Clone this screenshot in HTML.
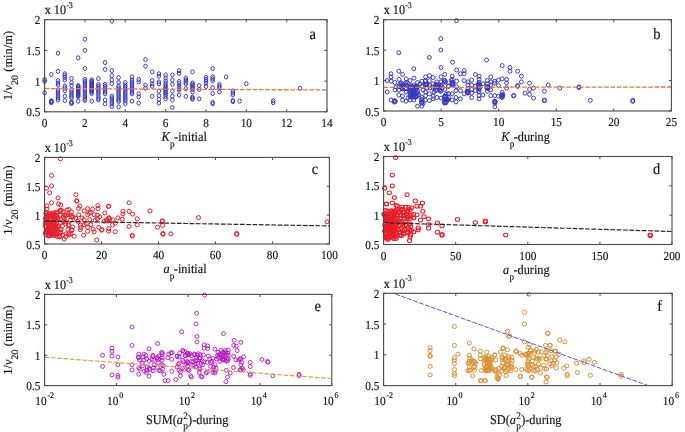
<!DOCTYPE html>
<html><head><meta charset="utf-8"><style>
html,body{margin:0;padding:0;background:#fff;}
svg{display:block;will-change:transform;filter:blur(0.35px);text-rendering:geometricPrecision;font-family:"Liberation Serif", serif;} text{fill:#111;stroke:#111;stroke-width:0.15px;}
</style></head><body>
<svg width="685" height="432" viewBox="0 0 685 432">
<rect width="685" height="432" fill="#fff"/>
<defs>
<clipPath id="cpa"><rect x="41.6" y="16.7" width="288.4" height="98.1"/></clipPath>
<clipPath id="cla"><rect x="44.6" y="19.7" width="282.4" height="92.1"/></clipPath>
<clipPath id="cpb"><rect x="380.6" y="16.7" width="293.8" height="97.3"/></clipPath>
<clipPath id="clb"><rect x="383.6" y="19.7" width="287.8" height="91.3"/></clipPath>
<clipPath id="cpc"><rect x="41.6" y="154.4" width="290.8" height="92.6"/></clipPath>
<clipPath id="clc"><rect x="44.6" y="157.4" width="284.8" height="86.6"/></clipPath>
<clipPath id="cpd"><rect x="380.6" y="153.5" width="294.4" height="94.0"/></clipPath>
<clipPath id="cld"><rect x="383.6" y="156.5" width="288.4" height="88.0"/></clipPath>
<clipPath id="cpe"><rect x="41.6" y="291.4" width="293.2" height="97.2"/></clipPath>
<clipPath id="cle"><rect x="44.6" y="294.4" width="287.2" height="91.2"/></clipPath>
<clipPath id="cpf"><rect x="380.6" y="290.3" width="294.6" height="98.3"/></clipPath>
<clipPath id="clf"><rect x="383.6" y="293.3" width="288.6" height="92.3"/></clipPath>
</defs>
<g fill="none" stroke="#3434c4" stroke-width="0.95" clip-path="url(#cpa)">
<ellipse cx="44.6" cy="79.4" rx="1.75" ry="2.05"/>
<ellipse cx="44.6" cy="81.5" rx="1.75" ry="2.05"/>
<ellipse cx="44.6" cy="92.8" rx="1.75" ry="2.05"/>
<ellipse cx="51.3" cy="74.5" rx="1.75" ry="2.05"/>
<ellipse cx="51.3" cy="100.8" rx="1.75" ry="2.05"/>
<ellipse cx="51.3" cy="101.4" rx="1.75" ry="2.05"/>
<ellipse cx="51.3" cy="102.0" rx="1.75" ry="2.05"/>
<ellipse cx="51.3" cy="102.6" rx="1.75" ry="2.05"/>
<ellipse cx="58.0" cy="53.2" rx="1.75" ry="2.05"/>
<ellipse cx="58.0" cy="71.3" rx="1.75" ry="2.05"/>
<ellipse cx="58.0" cy="80.6" rx="1.75" ry="2.05"/>
<ellipse cx="58.0" cy="83.0" rx="1.75" ry="2.05"/>
<ellipse cx="58.0" cy="85.0" rx="1.75" ry="2.05"/>
<ellipse cx="58.0" cy="90.0" rx="1.75" ry="2.05"/>
<ellipse cx="58.0" cy="92.0" rx="1.75" ry="2.05"/>
<ellipse cx="58.0" cy="94.0" rx="1.75" ry="2.05"/>
<ellipse cx="58.0" cy="96.0" rx="1.75" ry="2.05"/>
<ellipse cx="58.0" cy="98.0" rx="1.75" ry="2.05"/>
<ellipse cx="58.0" cy="100.0" rx="1.75" ry="2.05"/>
<ellipse cx="64.8" cy="73.8" rx="1.75" ry="2.05"/>
<ellipse cx="64.8" cy="75.6" rx="1.75" ry="2.05"/>
<ellipse cx="64.8" cy="77.5" rx="1.75" ry="2.05"/>
<ellipse cx="64.8" cy="80.0" rx="1.75" ry="2.05"/>
<ellipse cx="64.8" cy="86.2" rx="1.75" ry="2.05"/>
<ellipse cx="64.8" cy="88.1" rx="1.75" ry="2.05"/>
<ellipse cx="64.8" cy="90.6" rx="1.75" ry="2.05"/>
<ellipse cx="64.8" cy="96.2" rx="1.75" ry="2.05"/>
<ellipse cx="64.8" cy="100.6" rx="1.75" ry="2.05"/>
<ellipse cx="71.5" cy="78.5" rx="1.75" ry="2.05"/>
<ellipse cx="71.5" cy="82.5" rx="1.75" ry="2.05"/>
<ellipse cx="71.5" cy="85.6" rx="1.75" ry="2.05"/>
<ellipse cx="71.5" cy="90.0" rx="1.75" ry="2.05"/>
<ellipse cx="71.5" cy="92.0" rx="1.75" ry="2.05"/>
<ellipse cx="71.5" cy="94.0" rx="1.75" ry="2.05"/>
<ellipse cx="71.5" cy="96.0" rx="1.75" ry="2.05"/>
<ellipse cx="71.5" cy="98.0" rx="1.75" ry="2.05"/>
<ellipse cx="71.5" cy="102.0" rx="1.75" ry="2.05"/>
<ellipse cx="71.5" cy="102.8" rx="1.75" ry="2.05"/>
<ellipse cx="71.5" cy="103.5" rx="1.75" ry="2.05"/>
<ellipse cx="78.2" cy="57.9" rx="1.75" ry="2.05"/>
<ellipse cx="78.2" cy="85.6" rx="1.75" ry="2.05"/>
<ellipse cx="78.2" cy="86.6" rx="1.75" ry="2.05"/>
<ellipse cx="78.2" cy="87.6" rx="1.75" ry="2.05"/>
<ellipse cx="78.2" cy="88.6" rx="1.75" ry="2.05"/>
<ellipse cx="78.2" cy="89.6" rx="1.75" ry="2.05"/>
<ellipse cx="78.2" cy="90.6" rx="1.75" ry="2.05"/>
<ellipse cx="78.2" cy="91.6" rx="1.75" ry="2.05"/>
<ellipse cx="78.2" cy="92.6" rx="1.75" ry="2.05"/>
<ellipse cx="78.2" cy="93.6" rx="1.75" ry="2.05"/>
<ellipse cx="78.2" cy="94.6" rx="1.75" ry="2.05"/>
<ellipse cx="78.2" cy="95.6" rx="1.75" ry="2.05"/>
<ellipse cx="78.2" cy="96.5" rx="1.75" ry="2.05"/>
<ellipse cx="78.2" cy="101.2" rx="1.75" ry="2.05"/>
<ellipse cx="84.9" cy="39.3" rx="1.75" ry="2.05"/>
<ellipse cx="84.9" cy="50.4" rx="1.75" ry="2.05"/>
<ellipse cx="84.9" cy="68.5" rx="1.75" ry="2.05"/>
<ellipse cx="84.9" cy="79.4" rx="1.75" ry="2.05"/>
<ellipse cx="84.9" cy="81.2" rx="1.75" ry="2.05"/>
<ellipse cx="84.9" cy="83.0" rx="1.75" ry="2.05"/>
<ellipse cx="84.9" cy="85.0" rx="1.75" ry="2.05"/>
<ellipse cx="84.9" cy="87.0" rx="1.75" ry="2.05"/>
<ellipse cx="84.9" cy="89.0" rx="1.75" ry="2.05"/>
<ellipse cx="84.9" cy="91.0" rx="1.75" ry="2.05"/>
<ellipse cx="84.9" cy="93.0" rx="1.75" ry="2.05"/>
<ellipse cx="84.9" cy="95.0" rx="1.75" ry="2.05"/>
<ellipse cx="84.9" cy="97.0" rx="1.75" ry="2.05"/>
<ellipse cx="84.9" cy="99.0" rx="1.75" ry="2.05"/>
<ellipse cx="84.9" cy="100.5" rx="1.75" ry="2.05"/>
<ellipse cx="91.7" cy="80.0" rx="1.75" ry="2.05"/>
<ellipse cx="91.7" cy="81.0" rx="1.75" ry="2.05"/>
<ellipse cx="91.7" cy="82.0" rx="1.75" ry="2.05"/>
<ellipse cx="91.7" cy="83.0" rx="1.75" ry="2.05"/>
<ellipse cx="91.7" cy="84.0" rx="1.75" ry="2.05"/>
<ellipse cx="91.7" cy="85.0" rx="1.75" ry="2.05"/>
<ellipse cx="91.7" cy="86.0" rx="1.75" ry="2.05"/>
<ellipse cx="91.7" cy="87.0" rx="1.75" ry="2.05"/>
<ellipse cx="91.7" cy="88.0" rx="1.75" ry="2.05"/>
<ellipse cx="91.7" cy="89.0" rx="1.75" ry="2.05"/>
<ellipse cx="91.7" cy="90.0" rx="1.75" ry="2.05"/>
<ellipse cx="91.7" cy="91.0" rx="1.75" ry="2.05"/>
<ellipse cx="91.7" cy="92.0" rx="1.75" ry="2.05"/>
<ellipse cx="91.7" cy="93.5" rx="1.75" ry="2.05"/>
<ellipse cx="91.7" cy="101.2" rx="1.75" ry="2.05"/>
<ellipse cx="98.4" cy="78.6" rx="1.75" ry="2.05"/>
<ellipse cx="98.4" cy="84.4" rx="1.75" ry="2.05"/>
<ellipse cx="98.4" cy="86.2" rx="1.75" ry="2.05"/>
<ellipse cx="98.4" cy="88.0" rx="1.75" ry="2.05"/>
<ellipse cx="98.4" cy="90.0" rx="1.75" ry="2.05"/>
<ellipse cx="98.4" cy="92.0" rx="1.75" ry="2.05"/>
<ellipse cx="98.4" cy="94.0" rx="1.75" ry="2.05"/>
<ellipse cx="98.4" cy="96.5" rx="1.75" ry="2.05"/>
<ellipse cx="98.4" cy="98.5" rx="1.75" ry="2.05"/>
<ellipse cx="98.4" cy="100.0" rx="1.75" ry="2.05"/>
<ellipse cx="105.1" cy="62.5" rx="1.75" ry="2.05"/>
<ellipse cx="105.1" cy="69.4" rx="1.75" ry="2.05"/>
<ellipse cx="105.1" cy="84.4" rx="1.75" ry="2.05"/>
<ellipse cx="105.1" cy="86.2" rx="1.75" ry="2.05"/>
<ellipse cx="105.1" cy="88.0" rx="1.75" ry="2.05"/>
<ellipse cx="105.1" cy="90.0" rx="1.75" ry="2.05"/>
<ellipse cx="105.1" cy="92.0" rx="1.75" ry="2.05"/>
<ellipse cx="105.1" cy="93.8" rx="1.75" ry="2.05"/>
<ellipse cx="105.1" cy="100.0" rx="1.75" ry="2.05"/>
<ellipse cx="105.1" cy="103.8" rx="1.75" ry="2.05"/>
<ellipse cx="111.8" cy="21.0" rx="1.75" ry="2.05"/>
<ellipse cx="111.8" cy="70.6" rx="1.75" ry="2.05"/>
<ellipse cx="111.8" cy="75.6" rx="1.75" ry="2.05"/>
<ellipse cx="111.8" cy="80.0" rx="1.75" ry="2.05"/>
<ellipse cx="111.8" cy="83.5" rx="1.75" ry="2.05"/>
<ellipse cx="111.8" cy="96.2" rx="1.75" ry="2.05"/>
<ellipse cx="111.8" cy="98.0" rx="1.75" ry="2.05"/>
<ellipse cx="111.8" cy="100.0" rx="1.75" ry="2.05"/>
<ellipse cx="111.8" cy="102.0" rx="1.75" ry="2.05"/>
<ellipse cx="111.8" cy="104.0" rx="1.75" ry="2.05"/>
<ellipse cx="111.8" cy="106.5" rx="1.75" ry="2.05"/>
<ellipse cx="118.6" cy="77.5" rx="1.75" ry="2.05"/>
<ellipse cx="118.6" cy="82.5" rx="1.75" ry="2.05"/>
<ellipse cx="118.6" cy="86.2" rx="1.75" ry="2.05"/>
<ellipse cx="118.6" cy="88.0" rx="1.75" ry="2.05"/>
<ellipse cx="118.6" cy="90.0" rx="1.75" ry="2.05"/>
<ellipse cx="118.6" cy="92.0" rx="1.75" ry="2.05"/>
<ellipse cx="118.6" cy="94.0" rx="1.75" ry="2.05"/>
<ellipse cx="118.6" cy="96.0" rx="1.75" ry="2.05"/>
<ellipse cx="118.6" cy="98.0" rx="1.75" ry="2.05"/>
<ellipse cx="118.6" cy="100.0" rx="1.75" ry="2.05"/>
<ellipse cx="118.6" cy="101.5" rx="1.75" ry="2.05"/>
<ellipse cx="118.6" cy="106.9" rx="1.75" ry="2.05"/>
<ellipse cx="125.3" cy="82.5" rx="1.75" ry="2.05"/>
<ellipse cx="125.3" cy="85.0" rx="1.75" ry="2.05"/>
<ellipse cx="125.3" cy="87.0" rx="1.75" ry="2.05"/>
<ellipse cx="125.3" cy="89.0" rx="1.75" ry="2.05"/>
<ellipse cx="125.3" cy="91.0" rx="1.75" ry="2.05"/>
<ellipse cx="125.3" cy="93.0" rx="1.75" ry="2.05"/>
<ellipse cx="125.3" cy="95.0" rx="1.75" ry="2.05"/>
<ellipse cx="125.3" cy="97.0" rx="1.75" ry="2.05"/>
<ellipse cx="125.3" cy="99.0" rx="1.75" ry="2.05"/>
<ellipse cx="125.3" cy="101.0" rx="1.75" ry="2.05"/>
<ellipse cx="125.3" cy="103.5" rx="1.75" ry="2.05"/>
<ellipse cx="132.0" cy="76.9" rx="1.75" ry="2.05"/>
<ellipse cx="132.0" cy="80.0" rx="1.75" ry="2.05"/>
<ellipse cx="132.0" cy="82.0" rx="1.75" ry="2.05"/>
<ellipse cx="132.0" cy="84.0" rx="1.75" ry="2.05"/>
<ellipse cx="132.0" cy="86.0" rx="1.75" ry="2.05"/>
<ellipse cx="132.0" cy="88.0" rx="1.75" ry="2.05"/>
<ellipse cx="132.0" cy="90.0" rx="1.75" ry="2.05"/>
<ellipse cx="132.0" cy="92.0" rx="1.75" ry="2.05"/>
<ellipse cx="132.0" cy="93.8" rx="1.75" ry="2.05"/>
<ellipse cx="132.0" cy="101.2" rx="1.75" ry="2.05"/>
<ellipse cx="138.7" cy="79.4" rx="1.75" ry="2.05"/>
<ellipse cx="138.7" cy="81.9" rx="1.75" ry="2.05"/>
<ellipse cx="138.7" cy="93.8" rx="1.75" ry="2.05"/>
<ellipse cx="138.7" cy="96.9" rx="1.75" ry="2.05"/>
<ellipse cx="138.7" cy="103.1" rx="1.75" ry="2.05"/>
<ellipse cx="145.5" cy="59.6" rx="1.75" ry="2.05"/>
<ellipse cx="145.5" cy="66.2" rx="1.75" ry="2.05"/>
<ellipse cx="145.5" cy="85.0" rx="1.75" ry="2.05"/>
<ellipse cx="145.5" cy="88.1" rx="1.75" ry="2.05"/>
<ellipse cx="152.2" cy="71.9" rx="1.75" ry="2.05"/>
<ellipse cx="152.2" cy="80.6" rx="1.75" ry="2.05"/>
<ellipse cx="152.2" cy="83.8" rx="1.75" ry="2.05"/>
<ellipse cx="152.2" cy="86.2" rx="1.75" ry="2.05"/>
<ellipse cx="152.2" cy="96.2" rx="1.75" ry="2.05"/>
<ellipse cx="158.9" cy="73.8" rx="1.75" ry="2.05"/>
<ellipse cx="158.9" cy="76.2" rx="1.75" ry="2.05"/>
<ellipse cx="158.9" cy="81.9" rx="1.75" ry="2.05"/>
<ellipse cx="158.9" cy="83.8" rx="1.75" ry="2.05"/>
<ellipse cx="158.9" cy="91.2" rx="1.75" ry="2.05"/>
<ellipse cx="158.9" cy="95.6" rx="1.75" ry="2.05"/>
<ellipse cx="158.9" cy="99.4" rx="1.75" ry="2.05"/>
<ellipse cx="158.9" cy="103.1" rx="1.75" ry="2.05"/>
<ellipse cx="165.6" cy="75.0" rx="1.75" ry="2.05"/>
<ellipse cx="165.6" cy="78.0" rx="1.75" ry="2.05"/>
<ellipse cx="165.6" cy="81.0" rx="1.75" ry="2.05"/>
<ellipse cx="165.6" cy="83.5" rx="1.75" ry="2.05"/>
<ellipse cx="165.6" cy="85.5" rx="1.75" ry="2.05"/>
<ellipse cx="165.6" cy="87.0" rx="1.75" ry="2.05"/>
<ellipse cx="165.6" cy="88.5" rx="1.75" ry="2.05"/>
<ellipse cx="165.6" cy="90.0" rx="1.75" ry="2.05"/>
<ellipse cx="165.6" cy="91.5" rx="1.75" ry="2.05"/>
<ellipse cx="165.6" cy="93.0" rx="1.75" ry="2.05"/>
<ellipse cx="165.6" cy="94.5" rx="1.75" ry="2.05"/>
<ellipse cx="165.6" cy="96.5" rx="1.75" ry="2.05"/>
<ellipse cx="165.6" cy="98.8" rx="1.75" ry="2.05"/>
<ellipse cx="172.4" cy="75.0" rx="1.75" ry="2.05"/>
<ellipse cx="172.4" cy="80.0" rx="1.75" ry="2.05"/>
<ellipse cx="172.4" cy="84.4" rx="1.75" ry="2.05"/>
<ellipse cx="172.4" cy="91.2" rx="1.75" ry="2.05"/>
<ellipse cx="172.4" cy="96.2" rx="1.75" ry="2.05"/>
<ellipse cx="172.4" cy="100.0" rx="1.75" ry="2.05"/>
<ellipse cx="172.4" cy="107.5" rx="1.75" ry="2.05"/>
<ellipse cx="179.1" cy="70.6" rx="1.75" ry="2.05"/>
<ellipse cx="179.1" cy="73.3" rx="1.75" ry="2.05"/>
<ellipse cx="179.1" cy="81.5" rx="1.75" ry="2.05"/>
<ellipse cx="179.1" cy="83.5" rx="1.75" ry="2.05"/>
<ellipse cx="179.1" cy="86.5" rx="1.75" ry="2.05"/>
<ellipse cx="179.1" cy="88.5" rx="1.75" ry="2.05"/>
<ellipse cx="179.1" cy="90.0" rx="1.75" ry="2.05"/>
<ellipse cx="179.1" cy="95.0" rx="1.75" ry="2.05"/>
<ellipse cx="185.8" cy="78.0" rx="1.75" ry="2.05"/>
<ellipse cx="185.8" cy="80.0" rx="1.75" ry="2.05"/>
<ellipse cx="185.8" cy="82.0" rx="1.75" ry="2.05"/>
<ellipse cx="185.8" cy="83.8" rx="1.75" ry="2.05"/>
<ellipse cx="185.8" cy="88.8" rx="1.75" ry="2.05"/>
<ellipse cx="185.8" cy="96.5" rx="1.75" ry="2.05"/>
<ellipse cx="192.5" cy="71.9" rx="1.75" ry="2.05"/>
<ellipse cx="192.5" cy="83.0" rx="1.75" ry="2.05"/>
<ellipse cx="192.5" cy="84.4" rx="1.75" ry="2.05"/>
<ellipse cx="192.5" cy="85.6" rx="1.75" ry="2.05"/>
<ellipse cx="192.5" cy="86.9" rx="1.75" ry="2.05"/>
<ellipse cx="192.5" cy="88.1" rx="1.75" ry="2.05"/>
<ellipse cx="192.5" cy="89.4" rx="1.75" ry="2.05"/>
<ellipse cx="192.5" cy="91.9" rx="1.75" ry="2.05"/>
<ellipse cx="192.5" cy="97.0" rx="1.75" ry="2.05"/>
<ellipse cx="192.5" cy="98.1" rx="1.75" ry="2.05"/>
<ellipse cx="192.5" cy="99.4" rx="1.75" ry="2.05"/>
<ellipse cx="199.2" cy="85.6" rx="1.75" ry="2.05"/>
<ellipse cx="199.2" cy="89.4" rx="1.75" ry="2.05"/>
<ellipse cx="199.2" cy="98.8" rx="1.75" ry="2.05"/>
<ellipse cx="206.0" cy="77.5" rx="1.75" ry="2.05"/>
<ellipse cx="206.0" cy="79.4" rx="1.75" ry="2.05"/>
<ellipse cx="206.0" cy="81.2" rx="1.75" ry="2.05"/>
<ellipse cx="206.0" cy="83.1" rx="1.75" ry="2.05"/>
<ellipse cx="206.0" cy="86.5" rx="1.75" ry="2.05"/>
<ellipse cx="212.7" cy="68.5" rx="1.75" ry="2.05"/>
<ellipse cx="212.7" cy="76.9" rx="1.75" ry="2.05"/>
<ellipse cx="212.7" cy="78.8" rx="1.75" ry="2.05"/>
<ellipse cx="212.7" cy="80.6" rx="1.75" ry="2.05"/>
<ellipse cx="212.7" cy="87.8" rx="1.75" ry="2.05"/>
<ellipse cx="212.7" cy="93.5" rx="1.75" ry="2.05"/>
<ellipse cx="212.7" cy="102.5" rx="1.75" ry="2.05"/>
<ellipse cx="212.7" cy="103.8" rx="1.75" ry="2.05"/>
<ellipse cx="219.4" cy="84.4" rx="1.75" ry="2.05"/>
<ellipse cx="219.4" cy="86.2" rx="1.75" ry="2.05"/>
<ellipse cx="219.4" cy="88.1" rx="1.75" ry="2.05"/>
<ellipse cx="219.4" cy="91.9" rx="1.75" ry="2.05"/>
<ellipse cx="226.1" cy="76.9" rx="1.75" ry="2.05"/>
<ellipse cx="232.9" cy="91.0" rx="1.75" ry="2.05"/>
<ellipse cx="232.9" cy="92.9" rx="1.75" ry="2.05"/>
<ellipse cx="232.9" cy="94.8" rx="1.75" ry="2.05"/>
<ellipse cx="232.9" cy="100.6" rx="1.75" ry="2.05"/>
<ellipse cx="232.9" cy="101.6" rx="1.75" ry="2.05"/>
<ellipse cx="239.6" cy="101.2" rx="1.75" ry="2.05"/>
<ellipse cx="246.3" cy="83.7" rx="1.75" ry="2.05"/>
<ellipse cx="273.2" cy="100.7" rx="1.75" ry="2.05"/>
<ellipse cx="273.2" cy="102.7" rx="1.75" ry="2.05"/>
<ellipse cx="300.1" cy="88.2" rx="1.75" ry="2.05"/>
</g>
<line x1="44.6" y1="88.5" x2="327.0" y2="90.0" stroke="#ee7a30" stroke-width="1.3" stroke-dasharray="4.8 1.5" clip-path="url(#cla)"/>
<rect x="44.6" y="19.7" width="282.4" height="92.1" fill="none" stroke="#4a4a4a" stroke-width="1.1"/>
<path d="M44.60 111.8v-2.6M44.60 19.7v2.6M84.94 111.8v-2.6M84.94 19.7v2.6M125.29 111.8v-2.6M125.29 19.7v2.6M165.63 111.8v-2.6M165.63 19.7v2.6M205.97 111.8v-2.6M205.97 19.7v2.6M246.31 111.8v-2.6M246.31 19.7v2.6M286.66 111.8v-2.6M286.66 19.7v2.6M327.00 111.8v-2.6M327.00 19.7v2.6M44.6 111.80h2.6M327.0 111.80h-2.6M44.6 81.10h2.6M327.0 81.10h-2.6M44.6 50.40h2.6M327.0 50.40h-2.6M44.6 19.70h2.6M327.0 19.70h-2.6" stroke="#4a4a4a" stroke-width="1" fill="none"/>
<text transform="translate(40.40 116.30) scale(1 1.08)" font-size="11.3" text-anchor="end">0.5</text>
<text transform="translate(40.40 85.60) scale(1 1.08)" font-size="11.3" text-anchor="end">1</text>
<text transform="translate(40.40 54.90) scale(1 1.08)" font-size="11.3" text-anchor="end">1.5</text>
<text transform="translate(40.40 24.20) scale(1 1.08)" font-size="11.3" text-anchor="end">2</text>
<text transform="translate(44.70 14.40) scale(1 1.08)" font-size="12.2">x 10</text>
<text transform="translate(66.20 7.80) scale(1 1.08)" font-size="8">-3</text>
<text transform="translate(44.60 126.90) scale(1 1.08)" font-size="11.3" text-anchor="middle">0</text>
<text transform="translate(84.94 126.90) scale(1 1.08)" font-size="11.3" text-anchor="middle">2</text>
<text transform="translate(125.29 126.90) scale(1 1.08)" font-size="11.3" text-anchor="middle">4</text>
<text transform="translate(165.63 126.90) scale(1 1.08)" font-size="11.3" text-anchor="middle">6</text>
<text transform="translate(205.97 126.90) scale(1 1.08)" font-size="11.3" text-anchor="middle">8</text>
<text transform="translate(246.31 126.90) scale(1 1.08)" font-size="11.3" text-anchor="middle">10</text>
<text transform="translate(286.66 126.90) scale(1 1.08)" font-size="11.3" text-anchor="middle">12</text>
<text transform="translate(327.00 126.90) scale(1 1.08)" font-size="11.3" text-anchor="middle">14</text>
<text transform="translate(309.50 38.80) scale(1 1.08)" font-size="14.5">a</text>
<g fill="none" stroke="#3434c4" stroke-width="0.95" clip-path="url(#cpb)">
<ellipse cx="387.2" cy="80.6" rx="1.95" ry="2.0"/>
<ellipse cx="387.2" cy="91.9" rx="1.95" ry="2.0"/>
<ellipse cx="391.0" cy="73.8" rx="1.95" ry="2.0"/>
<ellipse cx="391.0" cy="76.9" rx="1.95" ry="2.0"/>
<ellipse cx="391.2" cy="81.2" rx="1.95" ry="2.0"/>
<ellipse cx="391.0" cy="100.0" rx="1.95" ry="2.0"/>
<ellipse cx="394.8" cy="82.5" rx="1.95" ry="2.0"/>
<ellipse cx="394.8" cy="101.2" rx="1.95" ry="2.0"/>
<ellipse cx="395.0" cy="90.0" rx="1.95" ry="2.0"/>
<ellipse cx="398.8" cy="71.2" rx="1.95" ry="2.0"/>
<ellipse cx="399.0" cy="79.4" rx="1.95" ry="2.0"/>
<ellipse cx="398.8" cy="86.2" rx="1.95" ry="2.0"/>
<ellipse cx="398.8" cy="90.0" rx="1.95" ry="2.0"/>
<ellipse cx="398.8" cy="95.0" rx="1.95" ry="2.0"/>
<ellipse cx="402.5" cy="74.4" rx="1.95" ry="2.0"/>
<ellipse cx="402.5" cy="83.8" rx="1.95" ry="2.0"/>
<ellipse cx="402.5" cy="88.8" rx="1.95" ry="2.0"/>
<ellipse cx="402.5" cy="96.2" rx="1.95" ry="2.0"/>
<ellipse cx="402.5" cy="100.0" rx="1.95" ry="2.0"/>
<ellipse cx="406.2" cy="78.8" rx="1.95" ry="2.0"/>
<ellipse cx="406.2" cy="85.0" rx="1.95" ry="2.0"/>
<ellipse cx="406.2" cy="88.8" rx="1.95" ry="2.0"/>
<ellipse cx="406.2" cy="101.2" rx="1.95" ry="2.0"/>
<ellipse cx="410.0" cy="80.6" rx="1.95" ry="2.0"/>
<ellipse cx="410.0" cy="86.2" rx="1.95" ry="2.0"/>
<ellipse cx="410.0" cy="90.0" rx="1.95" ry="2.0"/>
<ellipse cx="410.0" cy="92.5" rx="1.95" ry="2.0"/>
<ellipse cx="410.0" cy="96.2" rx="1.95" ry="2.0"/>
<ellipse cx="410.0" cy="100.0" rx="1.95" ry="2.0"/>
<ellipse cx="413.8" cy="68.8" rx="1.95" ry="2.0"/>
<ellipse cx="414.0" cy="78.1" rx="1.95" ry="2.0"/>
<ellipse cx="413.8" cy="85.0" rx="1.95" ry="2.0"/>
<ellipse cx="413.8" cy="90.0" rx="1.95" ry="2.0"/>
<ellipse cx="413.8" cy="92.5" rx="1.95" ry="2.0"/>
<ellipse cx="413.8" cy="95.6" rx="1.95" ry="2.0"/>
<ellipse cx="413.8" cy="100.0" rx="1.95" ry="2.0"/>
<ellipse cx="417.5" cy="82.5" rx="1.95" ry="2.0"/>
<ellipse cx="417.5" cy="86.9" rx="1.95" ry="2.0"/>
<ellipse cx="417.5" cy="90.6" rx="1.95" ry="2.0"/>
<ellipse cx="417.5" cy="93.1" rx="1.95" ry="2.0"/>
<ellipse cx="417.5" cy="106.2" rx="1.95" ry="2.0"/>
<ellipse cx="421.9" cy="81.2" rx="1.95" ry="2.0"/>
<ellipse cx="421.9" cy="86.2" rx="1.95" ry="2.0"/>
<ellipse cx="421.9" cy="97.5" rx="1.95" ry="2.0"/>
<ellipse cx="421.9" cy="100.0" rx="1.95" ry="2.0"/>
<ellipse cx="421.9" cy="102.5" rx="1.95" ry="2.0"/>
<ellipse cx="421.9" cy="106.2" rx="1.95" ry="2.0"/>
<ellipse cx="425.6" cy="76.9" rx="1.95" ry="2.0"/>
<ellipse cx="425.6" cy="80.6" rx="1.95" ry="2.0"/>
<ellipse cx="425.6" cy="84.4" rx="1.95" ry="2.0"/>
<ellipse cx="425.6" cy="91.9" rx="1.95" ry="2.0"/>
<ellipse cx="425.6" cy="95.6" rx="1.95" ry="2.0"/>
<ellipse cx="425.6" cy="100.0" rx="1.95" ry="2.0"/>
<ellipse cx="429.4" cy="75.6" rx="1.95" ry="2.0"/>
<ellipse cx="429.4" cy="80.6" rx="1.95" ry="2.0"/>
<ellipse cx="429.4" cy="85.6" rx="1.95" ry="2.0"/>
<ellipse cx="429.4" cy="93.8" rx="1.95" ry="2.0"/>
<ellipse cx="429.4" cy="100.6" rx="1.95" ry="2.0"/>
<ellipse cx="433.1" cy="77.5" rx="1.95" ry="2.0"/>
<ellipse cx="433.1" cy="83.8" rx="1.95" ry="2.0"/>
<ellipse cx="433.1" cy="87.5" rx="1.95" ry="2.0"/>
<ellipse cx="433.1" cy="96.2" rx="1.95" ry="2.0"/>
<ellipse cx="433.1" cy="98.8" rx="1.95" ry="2.0"/>
<ellipse cx="436.9" cy="81.9" rx="1.95" ry="2.0"/>
<ellipse cx="436.9" cy="86.2" rx="1.95" ry="2.0"/>
<ellipse cx="436.9" cy="90.0" rx="1.95" ry="2.0"/>
<ellipse cx="436.9" cy="97.5" rx="1.95" ry="2.0"/>
<ellipse cx="441.0" cy="67.5" rx="1.95" ry="2.0"/>
<ellipse cx="441.0" cy="76.9" rx="1.95" ry="2.0"/>
<ellipse cx="441.0" cy="81.9" rx="1.95" ry="2.0"/>
<ellipse cx="441.0" cy="86.2" rx="1.95" ry="2.0"/>
<ellipse cx="441.0" cy="91.2" rx="1.95" ry="2.0"/>
<ellipse cx="441.0" cy="98.1" rx="1.95" ry="2.0"/>
<ellipse cx="444.8" cy="74.4" rx="1.95" ry="2.0"/>
<ellipse cx="444.8" cy="80.6" rx="1.95" ry="2.0"/>
<ellipse cx="444.8" cy="89.4" rx="1.95" ry="2.0"/>
<ellipse cx="444.8" cy="96.2" rx="1.95" ry="2.0"/>
<ellipse cx="444.8" cy="100.0" rx="1.95" ry="2.0"/>
<ellipse cx="444.8" cy="103.1" rx="1.95" ry="2.0"/>
<ellipse cx="448.5" cy="86.2" rx="1.95" ry="2.0"/>
<ellipse cx="448.5" cy="93.8" rx="1.95" ry="2.0"/>
<ellipse cx="410.0" cy="88.0" rx="1.95" ry="2.0"/>
<ellipse cx="412.0" cy="94.0" rx="1.95" ry="2.0"/>
<ellipse cx="414.0" cy="97.0" rx="1.95" ry="2.0"/>
<ellipse cx="408.0" cy="98.0" rx="1.95" ry="2.0"/>
<ellipse cx="416.0" cy="88.0" rx="1.95" ry="2.0"/>
<ellipse cx="420.0" cy="84.0" rx="1.95" ry="2.0"/>
<ellipse cx="404.0" cy="86.0" rx="1.95" ry="2.0"/>
<ellipse cx="400.0" cy="84.0" rx="1.95" ry="2.0"/>
<ellipse cx="396.0" cy="87.0" rx="1.95" ry="2.0"/>
<ellipse cx="430.0" cy="88.0" rx="1.95" ry="2.0"/>
<ellipse cx="434.0" cy="92.0" rx="1.95" ry="2.0"/>
<ellipse cx="427.0" cy="88.0" rx="1.95" ry="2.0"/>
<ellipse cx="423.0" cy="90.0" rx="1.95" ry="2.0"/>
<ellipse cx="406.0" cy="92.0" rx="1.95" ry="2.0"/>
<ellipse cx="419.0" cy="95.0" rx="1.95" ry="2.0"/>
<ellipse cx="456.4" cy="20.5" rx="1.95" ry="2.0"/>
<ellipse cx="440.8" cy="38.7" rx="1.95" ry="2.0"/>
<ellipse cx="440.8" cy="50.0" rx="1.95" ry="2.0"/>
<ellipse cx="398.8" cy="52.7" rx="1.95" ry="2.0"/>
<ellipse cx="429.4" cy="57.5" rx="1.95" ry="2.0"/>
<ellipse cx="452.5" cy="62.2" rx="1.95" ry="2.0"/>
<ellipse cx="486.6" cy="60.0" rx="1.95" ry="2.0"/>
<ellipse cx="502.2" cy="65.6" rx="1.95" ry="2.0"/>
<ellipse cx="510.0" cy="67.5" rx="1.95" ry="2.0"/>
<ellipse cx="510.0" cy="71.2" rx="1.95" ry="2.0"/>
<ellipse cx="456.6" cy="70.0" rx="1.95" ry="2.0"/>
<ellipse cx="460.4" cy="73.8" rx="1.95" ry="2.0"/>
<ellipse cx="464.1" cy="70.6" rx="1.95" ry="2.0"/>
<ellipse cx="464.1" cy="73.8" rx="1.95" ry="2.0"/>
<ellipse cx="475.4" cy="74.4" rx="1.95" ry="2.0"/>
<ellipse cx="452.2" cy="76.2" rx="1.95" ry="2.0"/>
<ellipse cx="452.2" cy="79.4" rx="1.95" ry="2.0"/>
<ellipse cx="452.2" cy="82.5" rx="1.95" ry="2.0"/>
<ellipse cx="452.2" cy="85.0" rx="1.95" ry="2.0"/>
<ellipse cx="456.6" cy="81.2" rx="1.95" ry="2.0"/>
<ellipse cx="456.6" cy="86.9" rx="1.95" ry="2.0"/>
<ellipse cx="456.0" cy="90.6" rx="1.95" ry="2.0"/>
<ellipse cx="456.0" cy="97.5" rx="1.95" ry="2.0"/>
<ellipse cx="456.0" cy="101.9" rx="1.95" ry="2.0"/>
<ellipse cx="452.2" cy="93.8" rx="1.95" ry="2.0"/>
<ellipse cx="452.2" cy="100.0" rx="1.95" ry="2.0"/>
<ellipse cx="448.5" cy="86.2" rx="1.95" ry="2.0"/>
<ellipse cx="448.5" cy="93.8" rx="1.95" ry="2.0"/>
<ellipse cx="448.5" cy="97.5" rx="1.95" ry="2.0"/>
<ellipse cx="460.4" cy="90.6" rx="1.95" ry="2.0"/>
<ellipse cx="460.4" cy="98.8" rx="1.95" ry="2.0"/>
<ellipse cx="464.1" cy="80.6" rx="1.95" ry="2.0"/>
<ellipse cx="464.1" cy="93.8" rx="1.95" ry="2.0"/>
<ellipse cx="467.9" cy="81.9" rx="1.95" ry="2.0"/>
<ellipse cx="467.9" cy="85.0" rx="1.95" ry="2.0"/>
<ellipse cx="467.9" cy="88.8" rx="1.95" ry="2.0"/>
<ellipse cx="467.9" cy="91.2" rx="1.95" ry="2.0"/>
<ellipse cx="467.9" cy="93.1" rx="1.95" ry="2.0"/>
<ellipse cx="471.6" cy="80.0" rx="1.95" ry="2.0"/>
<ellipse cx="471.6" cy="85.0" rx="1.95" ry="2.0"/>
<ellipse cx="471.6" cy="89.4" rx="1.95" ry="2.0"/>
<ellipse cx="471.6" cy="93.1" rx="1.95" ry="2.0"/>
<ellipse cx="471.6" cy="97.5" rx="1.95" ry="2.0"/>
<ellipse cx="475.4" cy="86.2" rx="1.95" ry="2.0"/>
<ellipse cx="475.4" cy="90.6" rx="1.95" ry="2.0"/>
<ellipse cx="479.1" cy="76.2" rx="1.95" ry="2.0"/>
<ellipse cx="479.1" cy="79.4" rx="1.95" ry="2.0"/>
<ellipse cx="479.1" cy="82.5" rx="1.95" ry="2.0"/>
<ellipse cx="479.1" cy="85.6" rx="1.95" ry="2.0"/>
<ellipse cx="479.1" cy="88.8" rx="1.95" ry="2.0"/>
<ellipse cx="479.1" cy="91.9" rx="1.95" ry="2.0"/>
<ellipse cx="479.1" cy="95.6" rx="1.95" ry="2.0"/>
<ellipse cx="479.1" cy="98.8" rx="1.95" ry="2.0"/>
<ellipse cx="482.9" cy="83.8" rx="1.95" ry="2.0"/>
<ellipse cx="482.9" cy="95.0" rx="1.95" ry="2.0"/>
<ellipse cx="487.2" cy="80.6" rx="1.95" ry="2.0"/>
<ellipse cx="487.2" cy="83.8" rx="1.95" ry="2.0"/>
<ellipse cx="487.2" cy="86.9" rx="1.95" ry="2.0"/>
<ellipse cx="487.2" cy="91.2" rx="1.95" ry="2.0"/>
<ellipse cx="490.8" cy="76.9" rx="1.95" ry="2.0"/>
<ellipse cx="490.8" cy="81.9" rx="1.95" ry="2.0"/>
<ellipse cx="490.8" cy="85.0" rx="1.95" ry="2.0"/>
<ellipse cx="490.8" cy="90.0" rx="1.95" ry="2.0"/>
<ellipse cx="490.8" cy="95.6" rx="1.95" ry="2.0"/>
<ellipse cx="494.8" cy="81.2" rx="1.95" ry="2.0"/>
<ellipse cx="494.8" cy="83.1" rx="1.95" ry="2.0"/>
<ellipse cx="494.8" cy="95.6" rx="1.95" ry="2.0"/>
<ellipse cx="494.8" cy="101.2" rx="1.95" ry="2.0"/>
<ellipse cx="494.8" cy="103.1" rx="1.95" ry="2.0"/>
<ellipse cx="494.8" cy="106.9" rx="1.95" ry="2.0"/>
<ellipse cx="498.5" cy="80.0" rx="1.95" ry="2.0"/>
<ellipse cx="498.5" cy="85.6" rx="1.95" ry="2.0"/>
<ellipse cx="498.5" cy="96.2" rx="1.95" ry="2.0"/>
<ellipse cx="502.2" cy="78.8" rx="1.95" ry="2.0"/>
<ellipse cx="502.2" cy="92.5" rx="1.95" ry="2.0"/>
<ellipse cx="502.2" cy="95.0" rx="1.95" ry="2.0"/>
<ellipse cx="502.2" cy="97.5" rx="1.95" ry="2.0"/>
<ellipse cx="506.6" cy="79.4" rx="1.95" ry="2.0"/>
<ellipse cx="506.6" cy="83.1" rx="1.95" ry="2.0"/>
<ellipse cx="506.6" cy="88.1" rx="1.95" ry="2.0"/>
<ellipse cx="513.5" cy="95.6" rx="1.95" ry="2.0"/>
<ellipse cx="517.6" cy="71.2" rx="1.95" ry="2.0"/>
<ellipse cx="521.4" cy="76.2" rx="1.95" ry="2.0"/>
<ellipse cx="521.4" cy="81.9" rx="1.95" ry="2.0"/>
<ellipse cx="517.6" cy="85.6" rx="1.95" ry="2.0"/>
<ellipse cx="517.6" cy="86.4" rx="1.95" ry="2.0"/>
<ellipse cx="513.9" cy="95.6" rx="1.95" ry="2.0"/>
<ellipse cx="525.1" cy="93.1" rx="1.95" ry="2.0"/>
<ellipse cx="529.5" cy="83.1" rx="1.95" ry="2.0"/>
<ellipse cx="529.5" cy="89.4" rx="1.95" ry="2.0"/>
<ellipse cx="529.5" cy="94.4" rx="1.95" ry="2.0"/>
<ellipse cx="533.5" cy="88.1" rx="1.95" ry="2.0"/>
<ellipse cx="533.5" cy="98.1" rx="1.95" ry="2.0"/>
<ellipse cx="544.5" cy="91.2" rx="1.95" ry="2.0"/>
<ellipse cx="544.5" cy="100.0" rx="1.95" ry="2.0"/>
<ellipse cx="544.5" cy="100.6" rx="1.95" ry="2.0"/>
<ellipse cx="548.2" cy="85.0" rx="1.95" ry="2.0"/>
<ellipse cx="559.8" cy="88.1" rx="1.95" ry="2.0"/>
<ellipse cx="578.9" cy="86.9" rx="1.95" ry="2.0"/>
<ellipse cx="578.9" cy="87.6" rx="1.95" ry="2.0"/>
<ellipse cx="590.3" cy="100.4" rx="1.95" ry="2.0"/>
<ellipse cx="632.8" cy="100.2" rx="1.95" ry="2.0"/>
<ellipse cx="632.8" cy="101.4" rx="1.95" ry="2.0"/>
<ellipse cx="414.7" cy="94.3" rx="1.95" ry="2.0"/>
<ellipse cx="416.0" cy="96.8" rx="1.95" ry="2.0"/>
<ellipse cx="415.5" cy="96.5" rx="1.95" ry="2.0"/>
<ellipse cx="410.2" cy="90.8" rx="1.95" ry="2.0"/>
<ellipse cx="417.1" cy="93.1" rx="1.95" ry="2.0"/>
<ellipse cx="416.8" cy="86.4" rx="1.95" ry="2.0"/>
<ellipse cx="413.5" cy="88.1" rx="1.95" ry="2.0"/>
<ellipse cx="414.1" cy="92.2" rx="1.95" ry="2.0"/>
<ellipse cx="410.1" cy="87.7" rx="1.95" ry="2.0"/>
<ellipse cx="412.1" cy="96.5" rx="1.95" ry="2.0"/>
<ellipse cx="415.7" cy="87.0" rx="1.95" ry="2.0"/>
<ellipse cx="416.0" cy="86.7" rx="1.95" ry="2.0"/>
<ellipse cx="414.6" cy="86.6" rx="1.95" ry="2.0"/>
<ellipse cx="410.0" cy="95.9" rx="1.95" ry="2.0"/>
<ellipse cx="411.6" cy="87.7" rx="1.95" ry="2.0"/>
<ellipse cx="417.4" cy="95.9" rx="1.95" ry="2.0"/>
<ellipse cx="412.2" cy="97.0" rx="1.95" ry="2.0"/>
<ellipse cx="414.0" cy="93.5" rx="1.95" ry="2.0"/>
<ellipse cx="411.5" cy="96.8" rx="1.95" ry="2.0"/>
<ellipse cx="415.2" cy="97.1" rx="1.95" ry="2.0"/>
<ellipse cx="416.7" cy="88.7" rx="1.95" ry="2.0"/>
<ellipse cx="412.7" cy="87.1" rx="1.95" ry="2.0"/>
<ellipse cx="411.1" cy="85.8" rx="1.95" ry="2.0"/>
<ellipse cx="412.3" cy="92.5" rx="1.95" ry="2.0"/>
<ellipse cx="410.0" cy="93.5" rx="1.95" ry="2.0"/>
<ellipse cx="412.5" cy="88.9" rx="1.95" ry="2.0"/>
<ellipse cx="406.3" cy="85.6" rx="1.95" ry="2.0"/>
<ellipse cx="403.1" cy="85.6" rx="1.95" ry="2.0"/>
<ellipse cx="405.6" cy="82.9" rx="1.95" ry="2.0"/>
<ellipse cx="407.3" cy="82.6" rx="1.95" ry="2.0"/>
<ellipse cx="405.9" cy="88.0" rx="1.95" ry="2.0"/>
<ellipse cx="401.1" cy="87.6" rx="1.95" ry="2.0"/>
<ellipse cx="403.4" cy="86.3" rx="1.95" ry="2.0"/>
<ellipse cx="401.1" cy="82.8" rx="1.95" ry="2.0"/>
<ellipse cx="402.2" cy="88.7" rx="1.95" ry="2.0"/>
<ellipse cx="402.3" cy="87.4" rx="1.95" ry="2.0"/>
<ellipse cx="422.9" cy="103.6" rx="1.95" ry="2.0"/>
<ellipse cx="421.7" cy="99.5" rx="1.95" ry="2.0"/>
<ellipse cx="422.0" cy="102.4" rx="1.95" ry="2.0"/>
<ellipse cx="421.2" cy="102.2" rx="1.95" ry="2.0"/>
<ellipse cx="427.0" cy="84.2" rx="1.95" ry="2.0"/>
<ellipse cx="425.1" cy="84.7" rx="1.95" ry="2.0"/>
<ellipse cx="425.2" cy="81.0" rx="1.95" ry="2.0"/>
<ellipse cx="426.5" cy="84.5" rx="1.95" ry="2.0"/>
<ellipse cx="425.8" cy="84.5" rx="1.95" ry="2.0"/>
<ellipse cx="439.1" cy="86.2" rx="1.95" ry="2.0"/>
<ellipse cx="437.4" cy="85.2" rx="1.95" ry="2.0"/>
<ellipse cx="435.6" cy="85.0" rx="1.95" ry="2.0"/>
<ellipse cx="440.2" cy="91.0" rx="1.95" ry="2.0"/>
<ellipse cx="436.2" cy="84.3" rx="1.95" ry="2.0"/>
<ellipse cx="442.4" cy="87.7" rx="1.95" ry="2.0"/>
<ellipse cx="438.0" cy="85.7" rx="1.95" ry="2.0"/>
<ellipse cx="439.5" cy="89.8" rx="1.95" ry="2.0"/>
<ellipse cx="438.4" cy="87.0" rx="1.95" ry="2.0"/>
<ellipse cx="435.4" cy="90.4" rx="1.95" ry="2.0"/>
<ellipse cx="435.2" cy="87.5" rx="1.95" ry="2.0"/>
<ellipse cx="441.3" cy="84.9" rx="1.95" ry="2.0"/>
<ellipse cx="445.5" cy="82.3" rx="1.95" ry="2.0"/>
<ellipse cx="445.3" cy="81.8" rx="1.95" ry="2.0"/>
<ellipse cx="444.2" cy="80.5" rx="1.95" ry="2.0"/>
<ellipse cx="444.3" cy="102.6" rx="1.95" ry="2.0"/>
<ellipse cx="444.6" cy="99.1" rx="1.95" ry="2.0"/>
<ellipse cx="446.0" cy="102.7" rx="1.95" ry="2.0"/>
<ellipse cx="446.0" cy="99.1" rx="1.95" ry="2.0"/>
<ellipse cx="445.0" cy="101.6" rx="1.95" ry="2.0"/>
<ellipse cx="445.0" cy="97.6" rx="1.95" ry="2.0"/>
<ellipse cx="444.8" cy="96.3" rx="1.95" ry="2.0"/>
<ellipse cx="394.3" cy="102.0" rx="1.95" ry="2.0"/>
<ellipse cx="395.4" cy="101.3" rx="1.95" ry="2.0"/>
<ellipse cx="394.5" cy="100.7" rx="1.95" ry="2.0"/>
<ellipse cx="451.2" cy="80.5" rx="1.95" ry="2.0"/>
<ellipse cx="453.0" cy="84.2" rx="1.95" ry="2.0"/>
<ellipse cx="451.9" cy="83.7" rx="1.95" ry="2.0"/>
<ellipse cx="452.9" cy="83.1" rx="1.95" ry="2.0"/>
<ellipse cx="468.0" cy="92.5" rx="1.95" ry="2.0"/>
<ellipse cx="467.5" cy="92.3" rx="1.95" ry="2.0"/>
<ellipse cx="467.4" cy="91.2" rx="1.95" ry="2.0"/>
<ellipse cx="468.2" cy="92.2" rx="1.95" ry="2.0"/>
<ellipse cx="478.7" cy="90.2" rx="1.95" ry="2.0"/>
<ellipse cx="479.6" cy="84.7" rx="1.95" ry="2.0"/>
<ellipse cx="478.0" cy="84.2" rx="1.95" ry="2.0"/>
<ellipse cx="478.6" cy="86.1" rx="1.95" ry="2.0"/>
<ellipse cx="479.1" cy="88.3" rx="1.95" ry="2.0"/>
<ellipse cx="479.6" cy="88.0" rx="1.95" ry="2.0"/>
<ellipse cx="478.8" cy="85.7" rx="1.95" ry="2.0"/>
<ellipse cx="487.5" cy="87.6" rx="1.95" ry="2.0"/>
<ellipse cx="486.7" cy="87.7" rx="1.95" ry="2.0"/>
<ellipse cx="487.7" cy="86.5" rx="1.95" ry="2.0"/>
<ellipse cx="488.0" cy="88.7" rx="1.95" ry="2.0"/>
<ellipse cx="502.0" cy="95.1" rx="1.95" ry="2.0"/>
<ellipse cx="501.3" cy="96.7" rx="1.95" ry="2.0"/>
<ellipse cx="502.9" cy="94.9" rx="1.95" ry="2.0"/>
<ellipse cx="502.4" cy="96.1" rx="1.95" ry="2.0"/>
<ellipse cx="495.0" cy="101.3" rx="1.95" ry="2.0"/>
<ellipse cx="495.1" cy="102.2" rx="1.95" ry="2.0"/>
<ellipse cx="494.9" cy="101.8" rx="1.95" ry="2.0"/>
<ellipse cx="447.6" cy="100.2" rx="1.95" ry="2.0"/>
<ellipse cx="447.6" cy="99.7" rx="1.95" ry="2.0"/>
<ellipse cx="446.1" cy="94.1" rx="1.95" ry="2.0"/>
<ellipse cx="447.1" cy="99.0" rx="1.95" ry="2.0"/>
<ellipse cx="446.5" cy="99.4" rx="1.95" ry="2.0"/>
</g>
<line x1="383.6" y1="87.4" x2="671.4" y2="87.0" stroke="#ee7a30" stroke-width="1.3" stroke-dasharray="4.8 1.5" clip-path="url(#clb)"/>
<rect x="383.6" y="19.7" width="287.8" height="91.3" fill="none" stroke="#4a4a4a" stroke-width="1.1"/>
<path d="M383.60 111.0v-2.6M383.60 19.7v2.6M441.16 111.0v-2.6M441.16 19.7v2.6M498.72 111.0v-2.6M498.72 19.7v2.6M556.28 111.0v-2.6M556.28 19.7v2.6M613.84 111.0v-2.6M613.84 19.7v2.6M671.40 111.0v-2.6M671.40 19.7v2.6M383.6 111.00h2.6M671.4 111.00h-2.6M383.6 80.57h2.6M671.4 80.57h-2.6M383.6 50.13h2.6M671.4 50.13h-2.6M383.6 19.70h2.6M671.4 19.70h-2.6" stroke="#4a4a4a" stroke-width="1" fill="none"/>
<text transform="translate(379.40 115.50) scale(1 1.08)" font-size="11.3" text-anchor="end">0.5</text>
<text transform="translate(379.40 85.07) scale(1 1.08)" font-size="11.3" text-anchor="end">1</text>
<text transform="translate(379.40 54.63) scale(1 1.08)" font-size="11.3" text-anchor="end">1.5</text>
<text transform="translate(379.40 24.20) scale(1 1.08)" font-size="11.3" text-anchor="end">2</text>
<text transform="translate(383.70 14.40) scale(1 1.08)" font-size="12.2">x 10</text>
<text transform="translate(405.20 7.80) scale(1 1.08)" font-size="8">-3</text>
<text transform="translate(383.60 126.10) scale(1 1.08)" font-size="11.3" text-anchor="middle">0</text>
<text transform="translate(441.16 126.10) scale(1 1.08)" font-size="11.3" text-anchor="middle">5</text>
<text transform="translate(498.72 126.10) scale(1 1.08)" font-size="11.3" text-anchor="middle">10</text>
<text transform="translate(556.28 126.10) scale(1 1.08)" font-size="11.3" text-anchor="middle">15</text>
<text transform="translate(613.84 126.10) scale(1 1.08)" font-size="11.3" text-anchor="middle">20</text>
<text transform="translate(671.40 126.10) scale(1 1.08)" font-size="11.3" text-anchor="middle">25</text>
<text transform="translate(653.20 38.80) scale(1 1.08)" font-size="14.5">b</text>
<g fill="none" stroke="#e81e28" stroke-width="1.0" clip-path="url(#cpc)">
<ellipse cx="60.4" cy="158.8" rx="2.05" ry="2.0"/>
<ellipse cx="51.6" cy="175.5" rx="2.05" ry="2.0"/>
<ellipse cx="51.6" cy="185.9" rx="2.05" ry="2.0"/>
<ellipse cx="46.5" cy="188.2" rx="2.05" ry="2.0"/>
<ellipse cx="49.7" cy="192.8" rx="2.05" ry="2.0"/>
<ellipse cx="58.0" cy="197.9" rx="2.05" ry="2.0"/>
<ellipse cx="75.9" cy="194.7" rx="2.05" ry="2.0"/>
<ellipse cx="76.6" cy="200.9" rx="2.05" ry="2.0"/>
<ellipse cx="51.6" cy="202.8" rx="2.05" ry="2.0"/>
<ellipse cx="58.6" cy="203.9" rx="2.05" ry="2.0"/>
<ellipse cx="60.8" cy="205.0" rx="2.05" ry="2.0"/>
<ellipse cx="79.8" cy="206.0" rx="2.05" ry="2.0"/>
<ellipse cx="97.9" cy="205.6" rx="2.05" ry="2.0"/>
<ellipse cx="108.8" cy="206.2" rx="2.05" ry="2.0"/>
<ellipse cx="129.1" cy="202.8" rx="2.05" ry="2.0"/>
<ellipse cx="129.1" cy="211.3" rx="2.05" ry="2.0"/>
<ellipse cx="132.6" cy="214.1" rx="2.05" ry="2.0"/>
<ellipse cx="150.0" cy="210.9" rx="2.05" ry="2.0"/>
<ellipse cx="122.9" cy="211.3" rx="2.05" ry="2.0"/>
<ellipse cx="122.9" cy="213.9" rx="2.05" ry="2.0"/>
<ellipse cx="137.2" cy="218.8" rx="2.05" ry="2.0"/>
<ellipse cx="137.2" cy="224.8" rx="2.05" ry="2.0"/>
<ellipse cx="129.1" cy="226.5" rx="2.05" ry="2.0"/>
<ellipse cx="132.3" cy="235.4" rx="2.05" ry="2.0"/>
<ellipse cx="132.3" cy="236.1" rx="2.05" ry="2.0"/>
<ellipse cx="162.3" cy="220.7" rx="2.05" ry="2.0"/>
<ellipse cx="162.3" cy="221.6" rx="2.05" ry="2.0"/>
<ellipse cx="162.5" cy="225.4" rx="2.05" ry="2.0"/>
<ellipse cx="157.6" cy="227.2" rx="2.05" ry="2.0"/>
<ellipse cx="162.9" cy="233.4" rx="2.05" ry="2.0"/>
<ellipse cx="162.9" cy="234.3" rx="2.05" ry="2.0"/>
<ellipse cx="170.8" cy="233.9" rx="2.05" ry="2.0"/>
<ellipse cx="96.8" cy="240.0" rx="2.05" ry="2.0"/>
<ellipse cx="115.2" cy="231.7" rx="2.05" ry="2.0"/>
<ellipse cx="108.6" cy="231.1" rx="2.05" ry="2.0"/>
<ellipse cx="77.0" cy="201.1" rx="2.05" ry="2.0"/>
<ellipse cx="84.2" cy="210.8" rx="2.05" ry="2.0"/>
<ellipse cx="87.6" cy="208.6" rx="2.05" ry="2.0"/>
<ellipse cx="92.6" cy="209.1" rx="2.05" ry="2.0"/>
<ellipse cx="98.1" cy="208.6" rx="2.05" ry="2.0"/>
<ellipse cx="104.8" cy="213.0" rx="2.05" ry="2.0"/>
<ellipse cx="87.6" cy="214.7" rx="2.05" ry="2.0"/>
<ellipse cx="90.9" cy="212.4" rx="2.05" ry="2.0"/>
<ellipse cx="94.2" cy="214.7" rx="2.05" ry="2.0"/>
<ellipse cx="97.6" cy="215.2" rx="2.05" ry="2.0"/>
<ellipse cx="99.8" cy="216.9" rx="2.05" ry="2.0"/>
<ellipse cx="108.7" cy="218.0" rx="2.05" ry="2.0"/>
<ellipse cx="78.7" cy="214.7" rx="2.05" ry="2.0"/>
<ellipse cx="82.0" cy="218.0" rx="2.05" ry="2.0"/>
<ellipse cx="77.6" cy="221.3" rx="2.05" ry="2.0"/>
<ellipse cx="84.2" cy="224.7" rx="2.05" ry="2.0"/>
<ellipse cx="87.6" cy="227.4" rx="2.05" ry="2.0"/>
<ellipse cx="90.9" cy="224.7" rx="2.05" ry="2.0"/>
<ellipse cx="93.1" cy="229.1" rx="2.05" ry="2.0"/>
<ellipse cx="94.2" cy="231.9" rx="2.05" ry="2.0"/>
<ellipse cx="98.7" cy="227.4" rx="2.05" ry="2.0"/>
<ellipse cx="102.0" cy="229.7" rx="2.05" ry="2.0"/>
<ellipse cx="108.7" cy="228.6" rx="2.05" ry="2.0"/>
<ellipse cx="80.3" cy="229.7" rx="2.05" ry="2.0"/>
<ellipse cx="83.7" cy="235.2" rx="2.05" ry="2.0"/>
<ellipse cx="87.6" cy="231.3" rx="2.05" ry="2.0"/>
<ellipse cx="74.2" cy="236.3" rx="2.05" ry="2.0"/>
<ellipse cx="89.8" cy="219.7" rx="2.05" ry="2.0"/>
<ellipse cx="95.3" cy="220.2" rx="2.05" ry="2.0"/>
<ellipse cx="104.2" cy="221.3" rx="2.05" ry="2.0"/>
<ellipse cx="84.2" cy="219.7" rx="2.05" ry="2.0"/>
<ellipse cx="80.3" cy="225.2" rx="2.05" ry="2.0"/>
<ellipse cx="47.0" cy="205.8" rx="2.05" ry="2.0"/>
<ellipse cx="47.0" cy="209.1" rx="2.05" ry="2.0"/>
<ellipse cx="60.3" cy="210.8" rx="2.05" ry="2.0"/>
<ellipse cx="63.1" cy="211.9" rx="2.05" ry="2.0"/>
<ellipse cx="55.3" cy="212.4" rx="2.05" ry="2.0"/>
<ellipse cx="71.4" cy="211.9" rx="2.05" ry="2.0"/>
<ellipse cx="68.7" cy="214.7" rx="2.05" ry="2.0"/>
<ellipse cx="73.1" cy="216.9" rx="2.05" ry="2.0"/>
<ellipse cx="64.2" cy="219.1" rx="2.05" ry="2.0"/>
<ellipse cx="68.7" cy="225.8" rx="2.05" ry="2.0"/>
<ellipse cx="72.6" cy="226.9" rx="2.05" ry="2.0"/>
<ellipse cx="72.0" cy="230.2" rx="2.05" ry="2.0"/>
<ellipse cx="68.7" cy="233.6" rx="2.05" ry="2.0"/>
<ellipse cx="64.2" cy="239.1" rx="2.05" ry="2.0"/>
<ellipse cx="59.8" cy="236.9" rx="2.05" ry="2.0"/>
<ellipse cx="56.4" cy="234.7" rx="2.05" ry="2.0"/>
<ellipse cx="48.7" cy="235.8" rx="2.05" ry="2.0"/>
<ellipse cx="109.2" cy="217.9" rx="2.05" ry="2.0"/>
<ellipse cx="109.2" cy="219.8" rx="2.05" ry="2.0"/>
<ellipse cx="113.1" cy="219.8" rx="2.05" ry="2.0"/>
<ellipse cx="117.9" cy="217.9" rx="2.05" ry="2.0"/>
<ellipse cx="122.2" cy="219.2" rx="2.05" ry="2.0"/>
<ellipse cx="107.3" cy="221.1" rx="2.05" ry="2.0"/>
<ellipse cx="112.5" cy="224.8" rx="2.05" ry="2.0"/>
<ellipse cx="115.3" cy="223.1" rx="2.05" ry="2.0"/>
<ellipse cx="198.5" cy="217.6" rx="2.05" ry="2.0"/>
<ellipse cx="236.7" cy="233.4" rx="2.05" ry="2.0"/>
<ellipse cx="236.7" cy="234.4" rx="2.05" ry="2.0"/>
<ellipse cx="327.0" cy="221.8" rx="2.05" ry="2.0"/>
<ellipse cx="45.8" cy="213.2" rx="2.05" ry="2.0"/>
<ellipse cx="46.7" cy="215.1" rx="2.05" ry="2.0"/>
<ellipse cx="45.9" cy="217.4" rx="2.05" ry="2.0"/>
<ellipse cx="45.3" cy="219.3" rx="2.05" ry="2.0"/>
<ellipse cx="46.2" cy="222.0" rx="2.05" ry="2.0"/>
<ellipse cx="45.2" cy="223.0" rx="2.05" ry="2.0"/>
<ellipse cx="45.2" cy="226.2" rx="2.05" ry="2.0"/>
<ellipse cx="46.3" cy="226.7" rx="2.05" ry="2.0"/>
<ellipse cx="46.8" cy="230.7" rx="2.05" ry="2.0"/>
<ellipse cx="46.2" cy="232.0" rx="2.05" ry="2.0"/>
<ellipse cx="45.3" cy="232.9" rx="2.05" ry="2.0"/>
<ellipse cx="46.0" cy="235.0" rx="2.05" ry="2.0"/>
<ellipse cx="47.2" cy="212.5" rx="2.05" ry="2.0"/>
<ellipse cx="46.9" cy="215.0" rx="2.05" ry="2.0"/>
<ellipse cx="47.7" cy="217.9" rx="2.05" ry="2.0"/>
<ellipse cx="47.8" cy="219.6" rx="2.05" ry="2.0"/>
<ellipse cx="47.8" cy="221.7" rx="2.05" ry="2.0"/>
<ellipse cx="47.7" cy="223.0" rx="2.05" ry="2.0"/>
<ellipse cx="48.7" cy="226.6" rx="2.05" ry="2.0"/>
<ellipse cx="48.4" cy="228.1" rx="2.05" ry="2.0"/>
<ellipse cx="47.4" cy="229.1" rx="2.05" ry="2.0"/>
<ellipse cx="47.4" cy="230.9" rx="2.05" ry="2.0"/>
<ellipse cx="48.3" cy="233.7" rx="2.05" ry="2.0"/>
<ellipse cx="48.4" cy="235.7" rx="2.05" ry="2.0"/>
<ellipse cx="50.5" cy="213.8" rx="2.05" ry="2.0"/>
<ellipse cx="48.7" cy="214.5" rx="2.05" ry="2.0"/>
<ellipse cx="50.4" cy="217.1" rx="2.05" ry="2.0"/>
<ellipse cx="50.5" cy="219.1" rx="2.05" ry="2.0"/>
<ellipse cx="48.8" cy="221.6" rx="2.05" ry="2.0"/>
<ellipse cx="50.2" cy="223.0" rx="2.05" ry="2.0"/>
<ellipse cx="48.9" cy="225.2" rx="2.05" ry="2.0"/>
<ellipse cx="50.5" cy="228.2" rx="2.05" ry="2.0"/>
<ellipse cx="48.9" cy="229.2" rx="2.05" ry="2.0"/>
<ellipse cx="48.9" cy="230.9" rx="2.05" ry="2.0"/>
<ellipse cx="50.2" cy="233.2" rx="2.05" ry="2.0"/>
<ellipse cx="49.8" cy="235.8" rx="2.05" ry="2.0"/>
<ellipse cx="50.9" cy="213.5" rx="2.05" ry="2.0"/>
<ellipse cx="50.8" cy="215.4" rx="2.05" ry="2.0"/>
<ellipse cx="50.8" cy="217.0" rx="2.05" ry="2.0"/>
<ellipse cx="51.0" cy="218.8" rx="2.05" ry="2.0"/>
<ellipse cx="52.4" cy="222.0" rx="2.05" ry="2.0"/>
<ellipse cx="51.1" cy="224.3" rx="2.05" ry="2.0"/>
<ellipse cx="51.0" cy="225.3" rx="2.05" ry="2.0"/>
<ellipse cx="52.2" cy="227.9" rx="2.05" ry="2.0"/>
<ellipse cx="50.8" cy="230.7" rx="2.05" ry="2.0"/>
<ellipse cx="51.0" cy="231.3" rx="2.05" ry="2.0"/>
<ellipse cx="52.0" cy="233.5" rx="2.05" ry="2.0"/>
<ellipse cx="51.1" cy="235.1" rx="2.05" ry="2.0"/>
<ellipse cx="52.6" cy="213.2" rx="2.05" ry="2.0"/>
<ellipse cx="52.9" cy="215.3" rx="2.05" ry="2.0"/>
<ellipse cx="53.1" cy="217.1" rx="2.05" ry="2.0"/>
<ellipse cx="54.2" cy="219.3" rx="2.05" ry="2.0"/>
<ellipse cx="53.5" cy="222.1" rx="2.05" ry="2.0"/>
<ellipse cx="52.8" cy="222.7" rx="2.05" ry="2.0"/>
<ellipse cx="54.1" cy="226.2" rx="2.05" ry="2.0"/>
<ellipse cx="52.9" cy="227.0" rx="2.05" ry="2.0"/>
<ellipse cx="53.8" cy="230.6" rx="2.05" ry="2.0"/>
<ellipse cx="52.8" cy="232.7" rx="2.05" ry="2.0"/>
<ellipse cx="54.1" cy="234.1" rx="2.05" ry="2.0"/>
<ellipse cx="53.2" cy="235.1" rx="2.05" ry="2.0"/>
<ellipse cx="54.4" cy="214.0" rx="2.05" ry="2.0"/>
<ellipse cx="54.7" cy="215.6" rx="2.05" ry="2.0"/>
<ellipse cx="54.8" cy="217.9" rx="2.05" ry="2.0"/>
<ellipse cx="55.4" cy="218.9" rx="2.05" ry="2.0"/>
<ellipse cx="54.6" cy="221.8" rx="2.05" ry="2.0"/>
<ellipse cx="54.4" cy="222.9" rx="2.05" ry="2.0"/>
<ellipse cx="55.3" cy="226.3" rx="2.05" ry="2.0"/>
<ellipse cx="55.4" cy="227.2" rx="2.05" ry="2.0"/>
<ellipse cx="56.0" cy="229.1" rx="2.05" ry="2.0"/>
<ellipse cx="54.3" cy="231.3" rx="2.05" ry="2.0"/>
<ellipse cx="55.1" cy="233.0" rx="2.05" ry="2.0"/>
<ellipse cx="54.6" cy="235.7" rx="2.05" ry="2.0"/>
<ellipse cx="57.2" cy="212.3" rx="2.05" ry="2.0"/>
<ellipse cx="56.8" cy="215.9" rx="2.05" ry="2.0"/>
<ellipse cx="58.0" cy="217.5" rx="2.05" ry="2.0"/>
<ellipse cx="57.4" cy="219.5" rx="2.05" ry="2.0"/>
<ellipse cx="56.4" cy="220.4" rx="2.05" ry="2.0"/>
<ellipse cx="56.2" cy="224.3" rx="2.05" ry="2.0"/>
<ellipse cx="57.4" cy="226.5" rx="2.05" ry="2.0"/>
<ellipse cx="56.2" cy="227.9" rx="2.05" ry="2.0"/>
<ellipse cx="57.0" cy="230.2" rx="2.05" ry="2.0"/>
<ellipse cx="56.7" cy="232.8" rx="2.05" ry="2.0"/>
<ellipse cx="56.3" cy="234.0" rx="2.05" ry="2.0"/>
<ellipse cx="57.5" cy="236.8" rx="2.05" ry="2.0"/>
<ellipse cx="59.8" cy="210.6" rx="2.05" ry="2.0"/>
<ellipse cx="60.0" cy="215.2" rx="2.05" ry="2.0"/>
<ellipse cx="58.3" cy="218.1" rx="2.05" ry="2.0"/>
<ellipse cx="60.4" cy="222.5" rx="2.05" ry="2.0"/>
<ellipse cx="58.6" cy="226.0" rx="2.05" ry="2.0"/>
<ellipse cx="60.2" cy="228.9" rx="2.05" ry="2.0"/>
<ellipse cx="59.3" cy="231.9" rx="2.05" ry="2.0"/>
<ellipse cx="59.2" cy="236.5" rx="2.05" ry="2.0"/>
<ellipse cx="61.1" cy="210.4" rx="2.05" ry="2.0"/>
<ellipse cx="64.5" cy="215.0" rx="2.05" ry="2.0"/>
<ellipse cx="63.5" cy="217.0" rx="2.05" ry="2.0"/>
<ellipse cx="63.5" cy="221.4" rx="2.05" ry="2.0"/>
<ellipse cx="62.4" cy="226.1" rx="2.05" ry="2.0"/>
<ellipse cx="61.1" cy="229.6" rx="2.05" ry="2.0"/>
<ellipse cx="60.9" cy="232.8" rx="2.05" ry="2.0"/>
<ellipse cx="62.6" cy="235.1" rx="2.05" ry="2.0"/>
<ellipse cx="67.1" cy="209.9" rx="2.05" ry="2.0"/>
<ellipse cx="66.8" cy="215.2" rx="2.05" ry="2.0"/>
<ellipse cx="65.5" cy="215.5" rx="2.05" ry="2.0"/>
<ellipse cx="65.6" cy="221.8" rx="2.05" ry="2.0"/>
<ellipse cx="65.3" cy="223.6" rx="2.05" ry="2.0"/>
<ellipse cx="67.9" cy="229.2" rx="2.05" ry="2.0"/>
<ellipse cx="66.2" cy="233.8" rx="2.05" ry="2.0"/>
<ellipse cx="65.7" cy="236.7" rx="2.05" ry="2.0"/>
<ellipse cx="69.0" cy="209.6" rx="2.05" ry="2.0"/>
<ellipse cx="71.3" cy="215.2" rx="2.05" ry="2.0"/>
<ellipse cx="71.6" cy="216.9" rx="2.05" ry="2.0"/>
<ellipse cx="70.4" cy="220.4" rx="2.05" ry="2.0"/>
<ellipse cx="68.8" cy="224.9" rx="2.05" ry="2.0"/>
<ellipse cx="71.4" cy="229.9" rx="2.05" ry="2.0"/>
<ellipse cx="70.9" cy="234.1" rx="2.05" ry="2.0"/>
<ellipse cx="69.3" cy="234.9" rx="2.05" ry="2.0"/>
<ellipse cx="78.6" cy="208.4" rx="2.05" ry="2.0"/>
<ellipse cx="75.6" cy="218.3" rx="2.05" ry="2.0"/>
<ellipse cx="80.7" cy="227.6" rx="2.05" ry="2.0"/>
<ellipse cx="89.2" cy="213.3" rx="2.05" ry="2.0"/>
<ellipse cx="97.4" cy="218.6" rx="2.05" ry="2.0"/>
<ellipse cx="86.3" cy="223.6" rx="2.05" ry="2.0"/>
<ellipse cx="108.4" cy="206.4" rx="2.05" ry="2.0"/>
<ellipse cx="106.4" cy="219.6" rx="2.05" ry="2.0"/>
<ellipse cx="101.5" cy="230.2" rx="2.05" ry="2.0"/>
</g>
<line x1="44.6" y1="221.1" x2="329.4" y2="225.9" stroke="#2a2a2a" stroke-width="1.2" stroke-dasharray="4.8 1.5" clip-path="url(#clc)"/>
<rect x="44.6" y="157.4" width="284.8" height="86.6" fill="none" stroke="#4a4a4a" stroke-width="1.1"/>
<path d="M44.60 244.0v-2.6M44.60 157.4v2.6M101.56 244.0v-2.6M101.56 157.4v2.6M158.52 244.0v-2.6M158.52 157.4v2.6M215.48 244.0v-2.6M215.48 157.4v2.6M272.44 244.0v-2.6M272.44 157.4v2.6M329.40 244.0v-2.6M329.40 157.4v2.6M44.6 244.00h2.6M329.4 244.00h-2.6M44.6 215.13h2.6M329.4 215.13h-2.6M44.6 186.27h2.6M329.4 186.27h-2.6M44.6 157.40h2.6M329.4 157.40h-2.6" stroke="#4a4a4a" stroke-width="1" fill="none"/>
<text transform="translate(40.40 248.50) scale(1 1.08)" font-size="11.3" text-anchor="end">0.5</text>
<text transform="translate(40.40 219.63) scale(1 1.08)" font-size="11.3" text-anchor="end">1</text>
<text transform="translate(40.40 190.77) scale(1 1.08)" font-size="11.3" text-anchor="end">1.5</text>
<text transform="translate(40.40 161.90) scale(1 1.08)" font-size="11.3" text-anchor="end">2</text>
<text transform="translate(44.70 152.10) scale(1 1.08)" font-size="12.2">x 10</text>
<text transform="translate(66.20 145.50) scale(1 1.08)" font-size="8">-3</text>
<text transform="translate(44.60 259.10) scale(1 1.08)" font-size="11.3" text-anchor="middle">0</text>
<text transform="translate(101.56 259.10) scale(1 1.08)" font-size="11.3" text-anchor="middle">20</text>
<text transform="translate(158.52 259.10) scale(1 1.08)" font-size="11.3" text-anchor="middle">40</text>
<text transform="translate(215.48 259.10) scale(1 1.08)" font-size="11.3" text-anchor="middle">60</text>
<text transform="translate(272.44 259.10) scale(1 1.08)" font-size="11.3" text-anchor="middle">80</text>
<text transform="translate(329.40 259.10) scale(1 1.08)" font-size="11.3" text-anchor="middle">100</text>
<text transform="translate(311.80 174.00) scale(1 1.08)" font-size="14.5">c</text>
<g fill="none" stroke="#e81e28" stroke-width="1.05" clip-path="url(#cpd)">
<ellipse cx="395.7" cy="157.6" rx="2.1" ry="1.85"/>
<ellipse cx="392.3" cy="175.0" rx="2.1" ry="1.85"/>
<ellipse cx="392.3" cy="185.9" rx="2.1" ry="1.85"/>
<ellipse cx="384.6" cy="188.2" rx="2.1" ry="1.85"/>
<ellipse cx="389.3" cy="192.8" rx="2.1" ry="1.85"/>
<ellipse cx="394.4" cy="197.5" rx="2.1" ry="1.85"/>
<ellipse cx="407.1" cy="194.7" rx="2.1" ry="1.85"/>
<ellipse cx="415.2" cy="200.9" rx="2.1" ry="1.85"/>
<ellipse cx="422.4" cy="203.2" rx="2.1" ry="1.85"/>
<ellipse cx="417.0" cy="206.2" rx="2.1" ry="1.85"/>
<ellipse cx="420.5" cy="206.2" rx="2.1" ry="1.85"/>
<ellipse cx="422.8" cy="211.3" rx="2.1" ry="1.85"/>
<ellipse cx="392.3" cy="202.8" rx="2.1" ry="1.85"/>
<ellipse cx="386.5" cy="203.9" rx="2.1" ry="1.85"/>
<ellipse cx="397.4" cy="206.2" rx="2.1" ry="1.85"/>
<ellipse cx="402.0" cy="209.0" rx="2.1" ry="1.85"/>
<ellipse cx="428.6" cy="218.8" rx="2.1" ry="1.85"/>
<ellipse cx="428.6" cy="224.5" rx="2.1" ry="1.85"/>
<ellipse cx="428.6" cy="228.2" rx="2.1" ry="1.85"/>
<ellipse cx="437.4" cy="222.9" rx="2.1" ry="1.85"/>
<ellipse cx="442.0" cy="225.9" rx="2.1" ry="1.85"/>
<ellipse cx="437.4" cy="232.2" rx="2.1" ry="1.85"/>
<ellipse cx="442.0" cy="234.3" rx="2.1" ry="1.85"/>
<ellipse cx="442.0" cy="235.3" rx="2.1" ry="1.85"/>
<ellipse cx="457.5" cy="219.4" rx="2.1" ry="1.85"/>
<ellipse cx="475.4" cy="222.5" rx="2.1" ry="1.85"/>
<ellipse cx="485.3" cy="220.9" rx="2.1" ry="1.85"/>
<ellipse cx="485.3" cy="221.9" rx="2.1" ry="1.85"/>
<ellipse cx="505.7" cy="235.0" rx="2.1" ry="1.85"/>
<ellipse cx="410.1" cy="236.8" rx="2.1" ry="1.85"/>
<ellipse cx="409.6" cy="240.7" rx="2.1" ry="1.85"/>
<ellipse cx="418.2" cy="229.9" rx="2.1" ry="1.85"/>
<ellipse cx="424.0" cy="216.7" rx="2.1" ry="1.85"/>
<ellipse cx="420.5" cy="220.1" rx="2.1" ry="1.85"/>
<ellipse cx="417.0" cy="214.8" rx="2.1" ry="1.85"/>
<ellipse cx="413.6" cy="214.4" rx="2.1" ry="1.85"/>
<ellipse cx="396.2" cy="205.3" rx="2.1" ry="1.85"/>
<ellipse cx="418.2" cy="227.9" rx="2.1" ry="1.85"/>
<ellipse cx="413.6" cy="231.9" rx="2.1" ry="1.85"/>
<ellipse cx="410.1" cy="230.8" rx="2.1" ry="1.85"/>
<ellipse cx="403.2" cy="233.1" rx="2.1" ry="1.85"/>
<ellipse cx="387.5" cy="239.5" rx="2.1" ry="1.85"/>
<ellipse cx="407.8" cy="212.2" rx="2.1" ry="1.85"/>
<ellipse cx="406.7" cy="215.7" rx="2.1" ry="1.85"/>
<ellipse cx="413.6" cy="218.0" rx="2.1" ry="1.85"/>
<ellipse cx="386.4" cy="204.1" rx="2.1" ry="1.85"/>
<ellipse cx="650.3" cy="234.8" rx="2.1" ry="1.85"/>
<ellipse cx="650.3" cy="235.8" rx="2.1" ry="1.85"/>
<ellipse cx="385.8" cy="210.3" rx="2.1" ry="1.85"/>
<ellipse cx="384.0" cy="214.1" rx="2.1" ry="1.85"/>
<ellipse cx="384.3" cy="214.4" rx="2.1" ry="1.85"/>
<ellipse cx="385.2" cy="216.9" rx="2.1" ry="1.85"/>
<ellipse cx="385.7" cy="218.8" rx="2.1" ry="1.85"/>
<ellipse cx="385.8" cy="221.0" rx="2.1" ry="1.85"/>
<ellipse cx="385.1" cy="224.4" rx="2.1" ry="1.85"/>
<ellipse cx="385.3" cy="226.4" rx="2.1" ry="1.85"/>
<ellipse cx="385.3" cy="226.7" rx="2.1" ry="1.85"/>
<ellipse cx="385.6" cy="229.9" rx="2.1" ry="1.85"/>
<ellipse cx="384.6" cy="231.1" rx="2.1" ry="1.85"/>
<ellipse cx="385.6" cy="234.0" rx="2.1" ry="1.85"/>
<ellipse cx="385.7" cy="236.5" rx="2.1" ry="1.85"/>
<ellipse cx="385.8" cy="238.1" rx="2.1" ry="1.85"/>
<ellipse cx="387.2" cy="211.3" rx="2.1" ry="1.85"/>
<ellipse cx="386.3" cy="214.1" rx="2.1" ry="1.85"/>
<ellipse cx="386.4" cy="215.8" rx="2.1" ry="1.85"/>
<ellipse cx="387.6" cy="217.6" rx="2.1" ry="1.85"/>
<ellipse cx="386.1" cy="220.0" rx="2.1" ry="1.85"/>
<ellipse cx="387.1" cy="220.7" rx="2.1" ry="1.85"/>
<ellipse cx="385.9" cy="223.5" rx="2.1" ry="1.85"/>
<ellipse cx="385.9" cy="226.4" rx="2.1" ry="1.85"/>
<ellipse cx="386.8" cy="227.6" rx="2.1" ry="1.85"/>
<ellipse cx="386.6" cy="230.0" rx="2.1" ry="1.85"/>
<ellipse cx="387.6" cy="231.4" rx="2.1" ry="1.85"/>
<ellipse cx="386.6" cy="234.0" rx="2.1" ry="1.85"/>
<ellipse cx="386.4" cy="236.1" rx="2.1" ry="1.85"/>
<ellipse cx="386.9" cy="237.8" rx="2.1" ry="1.85"/>
<ellipse cx="389.0" cy="211.1" rx="2.1" ry="1.85"/>
<ellipse cx="387.9" cy="214.1" rx="2.1" ry="1.85"/>
<ellipse cx="388.4" cy="215.0" rx="2.1" ry="1.85"/>
<ellipse cx="388.5" cy="218.1" rx="2.1" ry="1.85"/>
<ellipse cx="389.5" cy="219.3" rx="2.1" ry="1.85"/>
<ellipse cx="388.5" cy="220.6" rx="2.1" ry="1.85"/>
<ellipse cx="389.4" cy="222.8" rx="2.1" ry="1.85"/>
<ellipse cx="388.7" cy="225.2" rx="2.1" ry="1.85"/>
<ellipse cx="388.3" cy="227.3" rx="2.1" ry="1.85"/>
<ellipse cx="388.1" cy="228.7" rx="2.1" ry="1.85"/>
<ellipse cx="388.7" cy="232.4" rx="2.1" ry="1.85"/>
<ellipse cx="388.9" cy="233.2" rx="2.1" ry="1.85"/>
<ellipse cx="389.0" cy="235.0" rx="2.1" ry="1.85"/>
<ellipse cx="388.5" cy="238.6" rx="2.1" ry="1.85"/>
<ellipse cx="391.3" cy="211.0" rx="2.1" ry="1.85"/>
<ellipse cx="391.1" cy="213.1" rx="2.1" ry="1.85"/>
<ellipse cx="390.5" cy="215.4" rx="2.1" ry="1.85"/>
<ellipse cx="391.4" cy="217.8" rx="2.1" ry="1.85"/>
<ellipse cx="390.4" cy="219.8" rx="2.1" ry="1.85"/>
<ellipse cx="390.8" cy="221.1" rx="2.1" ry="1.85"/>
<ellipse cx="391.0" cy="224.1" rx="2.1" ry="1.85"/>
<ellipse cx="390.7" cy="226.5" rx="2.1" ry="1.85"/>
<ellipse cx="389.6" cy="227.6" rx="2.1" ry="1.85"/>
<ellipse cx="390.7" cy="229.3" rx="2.1" ry="1.85"/>
<ellipse cx="389.9" cy="232.1" rx="2.1" ry="1.85"/>
<ellipse cx="390.4" cy="233.3" rx="2.1" ry="1.85"/>
<ellipse cx="389.6" cy="236.9" rx="2.1" ry="1.85"/>
<ellipse cx="390.2" cy="237.2" rx="2.1" ry="1.85"/>
<ellipse cx="391.8" cy="210.5" rx="2.1" ry="1.85"/>
<ellipse cx="393.0" cy="212.4" rx="2.1" ry="1.85"/>
<ellipse cx="391.9" cy="214.3" rx="2.1" ry="1.85"/>
<ellipse cx="392.3" cy="216.6" rx="2.1" ry="1.85"/>
<ellipse cx="392.1" cy="219.8" rx="2.1" ry="1.85"/>
<ellipse cx="393.1" cy="222.1" rx="2.1" ry="1.85"/>
<ellipse cx="391.5" cy="223.2" rx="2.1" ry="1.85"/>
<ellipse cx="393.0" cy="224.6" rx="2.1" ry="1.85"/>
<ellipse cx="391.8" cy="227.6" rx="2.1" ry="1.85"/>
<ellipse cx="392.1" cy="230.2" rx="2.1" ry="1.85"/>
<ellipse cx="392.8" cy="231.7" rx="2.1" ry="1.85"/>
<ellipse cx="391.9" cy="233.3" rx="2.1" ry="1.85"/>
<ellipse cx="391.9" cy="235.0" rx="2.1" ry="1.85"/>
<ellipse cx="392.7" cy="237.3" rx="2.1" ry="1.85"/>
<ellipse cx="394.9" cy="211.3" rx="2.1" ry="1.85"/>
<ellipse cx="393.4" cy="213.1" rx="2.1" ry="1.85"/>
<ellipse cx="394.4" cy="214.2" rx="2.1" ry="1.85"/>
<ellipse cx="394.2" cy="216.3" rx="2.1" ry="1.85"/>
<ellipse cx="394.7" cy="218.3" rx="2.1" ry="1.85"/>
<ellipse cx="394.5" cy="222.4" rx="2.1" ry="1.85"/>
<ellipse cx="394.9" cy="222.9" rx="2.1" ry="1.85"/>
<ellipse cx="394.3" cy="224.8" rx="2.1" ry="1.85"/>
<ellipse cx="393.9" cy="228.4" rx="2.1" ry="1.85"/>
<ellipse cx="394.8" cy="228.7" rx="2.1" ry="1.85"/>
<ellipse cx="394.0" cy="232.0" rx="2.1" ry="1.85"/>
<ellipse cx="393.6" cy="234.4" rx="2.1" ry="1.85"/>
<ellipse cx="394.9" cy="236.0" rx="2.1" ry="1.85"/>
<ellipse cx="394.0" cy="238.7" rx="2.1" ry="1.85"/>
<ellipse cx="396.1" cy="210.4" rx="2.1" ry="1.85"/>
<ellipse cx="395.7" cy="212.4" rx="2.1" ry="1.85"/>
<ellipse cx="396.7" cy="215.2" rx="2.1" ry="1.85"/>
<ellipse cx="396.4" cy="217.9" rx="2.1" ry="1.85"/>
<ellipse cx="397.0" cy="218.7" rx="2.1" ry="1.85"/>
<ellipse cx="395.9" cy="222.2" rx="2.1" ry="1.85"/>
<ellipse cx="396.6" cy="223.2" rx="2.1" ry="1.85"/>
<ellipse cx="396.4" cy="224.9" rx="2.1" ry="1.85"/>
<ellipse cx="395.4" cy="226.7" rx="2.1" ry="1.85"/>
<ellipse cx="395.8" cy="229.1" rx="2.1" ry="1.85"/>
<ellipse cx="396.1" cy="232.7" rx="2.1" ry="1.85"/>
<ellipse cx="395.4" cy="233.9" rx="2.1" ry="1.85"/>
<ellipse cx="396.7" cy="236.1" rx="2.1" ry="1.85"/>
<ellipse cx="396.1" cy="238.5" rx="2.1" ry="1.85"/>
<ellipse cx="397.1" cy="208.8" rx="2.1" ry="1.85"/>
<ellipse cx="399.1" cy="211.4" rx="2.1" ry="1.85"/>
<ellipse cx="399.5" cy="212.3" rx="2.1" ry="1.85"/>
<ellipse cx="397.2" cy="215.5" rx="2.1" ry="1.85"/>
<ellipse cx="398.5" cy="220.8" rx="2.1" ry="1.85"/>
<ellipse cx="399.7" cy="222.2" rx="2.1" ry="1.85"/>
<ellipse cx="398.9" cy="226.2" rx="2.1" ry="1.85"/>
<ellipse cx="398.0" cy="229.9" rx="2.1" ry="1.85"/>
<ellipse cx="399.8" cy="232.2" rx="2.1" ry="1.85"/>
<ellipse cx="399.7" cy="235.4" rx="2.1" ry="1.85"/>
<ellipse cx="402.0" cy="207.0" rx="2.1" ry="1.85"/>
<ellipse cx="400.8" cy="209.7" rx="2.1" ry="1.85"/>
<ellipse cx="400.2" cy="214.8" rx="2.1" ry="1.85"/>
<ellipse cx="400.9" cy="215.1" rx="2.1" ry="1.85"/>
<ellipse cx="400.9" cy="218.3" rx="2.1" ry="1.85"/>
<ellipse cx="401.3" cy="222.0" rx="2.1" ry="1.85"/>
<ellipse cx="400.5" cy="225.4" rx="2.1" ry="1.85"/>
<ellipse cx="401.2" cy="228.1" rx="2.1" ry="1.85"/>
<ellipse cx="402.4" cy="230.9" rx="2.1" ry="1.85"/>
<ellipse cx="401.6" cy="235.6" rx="2.1" ry="1.85"/>
<ellipse cx="405.9" cy="207.1" rx="2.1" ry="1.85"/>
<ellipse cx="403.1" cy="211.9" rx="2.1" ry="1.85"/>
<ellipse cx="404.5" cy="212.7" rx="2.1" ry="1.85"/>
<ellipse cx="403.4" cy="215.7" rx="2.1" ry="1.85"/>
<ellipse cx="403.9" cy="218.4" rx="2.1" ry="1.85"/>
<ellipse cx="403.1" cy="224.0" rx="2.1" ry="1.85"/>
<ellipse cx="405.5" cy="224.3" rx="2.1" ry="1.85"/>
<ellipse cx="404.4" cy="229.4" rx="2.1" ry="1.85"/>
<ellipse cx="404.5" cy="230.2" rx="2.1" ry="1.85"/>
<ellipse cx="404.0" cy="234.1" rx="2.1" ry="1.85"/>
<ellipse cx="408.7" cy="207.7" rx="2.1" ry="1.85"/>
<ellipse cx="407.4" cy="210.9" rx="2.1" ry="1.85"/>
<ellipse cx="406.1" cy="214.1" rx="2.1" ry="1.85"/>
<ellipse cx="408.4" cy="217.0" rx="2.1" ry="1.85"/>
<ellipse cx="407.1" cy="218.9" rx="2.1" ry="1.85"/>
<ellipse cx="406.0" cy="221.2" rx="2.1" ry="1.85"/>
<ellipse cx="406.5" cy="225.4" rx="2.1" ry="1.85"/>
<ellipse cx="408.3" cy="227.7" rx="2.1" ry="1.85"/>
<ellipse cx="407.4" cy="231.9" rx="2.1" ry="1.85"/>
<ellipse cx="407.9" cy="233.1" rx="2.1" ry="1.85"/>
<ellipse cx="411.8" cy="207.8" rx="2.1" ry="1.85"/>
<ellipse cx="409.9" cy="209.7" rx="2.1" ry="1.85"/>
<ellipse cx="411.1" cy="214.8" rx="2.1" ry="1.85"/>
<ellipse cx="410.0" cy="216.2" rx="2.1" ry="1.85"/>
<ellipse cx="410.7" cy="218.5" rx="2.1" ry="1.85"/>
<ellipse cx="410.2" cy="223.8" rx="2.1" ry="1.85"/>
<ellipse cx="410.7" cy="226.5" rx="2.1" ry="1.85"/>
<ellipse cx="409.8" cy="229.6" rx="2.1" ry="1.85"/>
<ellipse cx="411.3" cy="230.7" rx="2.1" ry="1.85"/>
<ellipse cx="410.6" cy="235.0" rx="2.1" ry="1.85"/>
</g>
<line x1="383.6" y1="222.7" x2="672.0" y2="231.5" stroke="#2a2a2a" stroke-width="1.2" stroke-dasharray="4.8 1.5" clip-path="url(#cld)"/>
<rect x="383.6" y="156.5" width="288.4" height="88.0" fill="none" stroke="#4a4a4a" stroke-width="1.1"/>
<path d="M383.60 244.5v-2.6M383.60 156.5v2.6M455.70 244.5v-2.6M455.70 156.5v2.6M527.80 244.5v-2.6M527.80 156.5v2.6M599.90 244.5v-2.6M599.90 156.5v2.6M672.00 244.5v-2.6M672.00 156.5v2.6M383.6 244.50h2.6M672.0 244.50h-2.6M383.6 215.17h2.6M672.0 215.17h-2.6M383.6 185.83h2.6M672.0 185.83h-2.6M383.6 156.50h2.6M672.0 156.50h-2.6" stroke="#4a4a4a" stroke-width="1" fill="none"/>
<text transform="translate(379.40 249.00) scale(1 1.08)" font-size="11.3" text-anchor="end">0.5</text>
<text transform="translate(379.40 219.67) scale(1 1.08)" font-size="11.3" text-anchor="end">1</text>
<text transform="translate(379.40 190.33) scale(1 1.08)" font-size="11.3" text-anchor="end">1.5</text>
<text transform="translate(379.40 161.00) scale(1 1.08)" font-size="11.3" text-anchor="end">2</text>
<text transform="translate(383.70 151.20) scale(1 1.08)" font-size="12.2">x 10</text>
<text transform="translate(405.20 144.60) scale(1 1.08)" font-size="8">-3</text>
<text transform="translate(383.60 259.60) scale(1 1.08)" font-size="11.3" text-anchor="middle">0</text>
<text transform="translate(455.70 259.60) scale(1 1.08)" font-size="11.3" text-anchor="middle">50</text>
<text transform="translate(527.80 259.60) scale(1 1.08)" font-size="11.3" text-anchor="middle">100</text>
<text transform="translate(599.90 259.60) scale(1 1.08)" font-size="11.3" text-anchor="middle">150</text>
<text transform="translate(672.00 259.60) scale(1 1.08)" font-size="11.3" text-anchor="middle">200</text>
<text transform="translate(653.00 174.00) scale(1 1.08)" font-size="14.5">d</text>
<g fill="none" stroke="#b414c2" stroke-width="0.9" clip-path="url(#cpe)">
<ellipse cx="102.6" cy="355.3" rx="1.95" ry="1.95"/>
<ellipse cx="102.6" cy="366.4" rx="1.95" ry="1.95"/>
<ellipse cx="112.0" cy="348.2" rx="1.95" ry="1.95"/>
<ellipse cx="112.0" cy="351.3" rx="1.95" ry="1.95"/>
<ellipse cx="112.0" cy="356.0" rx="1.95" ry="1.95"/>
<ellipse cx="112.0" cy="374.9" rx="1.95" ry="1.95"/>
<ellipse cx="117.9" cy="357.0" rx="1.95" ry="1.95"/>
<ellipse cx="117.9" cy="364.7" rx="1.95" ry="1.95"/>
<ellipse cx="117.9" cy="375.4" rx="1.95" ry="1.95"/>
<ellipse cx="117.9" cy="377.3" rx="1.95" ry="1.95"/>
<ellipse cx="132.1" cy="327.0" rx="1.95" ry="1.95"/>
<ellipse cx="132.1" cy="345.4" rx="1.95" ry="1.95"/>
<ellipse cx="132.1" cy="364.7" rx="1.95" ry="1.95"/>
<ellipse cx="132.1" cy="369.9" rx="1.95" ry="1.95"/>
<ellipse cx="138.7" cy="354.1" rx="1.95" ry="1.95"/>
<ellipse cx="138.7" cy="357.7" rx="1.95" ry="1.95"/>
<ellipse cx="138.7" cy="374.2" rx="1.95" ry="1.95"/>
<ellipse cx="143.9" cy="354.1" rx="1.95" ry="1.95"/>
<ellipse cx="143.9" cy="360.0" rx="1.95" ry="1.95"/>
<ellipse cx="149.1" cy="348.9" rx="1.95" ry="1.95"/>
<ellipse cx="149.1" cy="361.2" rx="1.95" ry="1.95"/>
<ellipse cx="146.7" cy="370.2" rx="1.95" ry="1.95"/>
<ellipse cx="149.1" cy="376.1" rx="1.95" ry="1.95"/>
<ellipse cx="157.6" cy="343.5" rx="1.95" ry="1.95"/>
<ellipse cx="152.9" cy="355.3" rx="1.95" ry="1.95"/>
<ellipse cx="161.6" cy="352.5" rx="1.95" ry="1.95"/>
<ellipse cx="181.7" cy="331.7" rx="1.95" ry="1.95"/>
<ellipse cx="182.9" cy="350.6" rx="1.95" ry="1.95"/>
<ellipse cx="168.7" cy="354.1" rx="1.95" ry="1.95"/>
<ellipse cx="172.2" cy="352.5" rx="1.95" ry="1.95"/>
<ellipse cx="177.0" cy="356.5" rx="1.95" ry="1.95"/>
<ellipse cx="196.1" cy="323.9" rx="1.95" ry="1.95"/>
<ellipse cx="196.9" cy="336.5" rx="1.95" ry="1.95"/>
<ellipse cx="196.9" cy="342.0" rx="1.95" ry="1.95"/>
<ellipse cx="153.3" cy="368.0" rx="1.95" ry="1.95"/>
<ellipse cx="157.6" cy="357.8" rx="1.95" ry="1.95"/>
<ellipse cx="158.3" cy="362.5" rx="1.95" ry="1.95"/>
<ellipse cx="159.1" cy="370.4" rx="1.95" ry="1.95"/>
<ellipse cx="162.3" cy="352.8" rx="1.95" ry="1.95"/>
<ellipse cx="162.3" cy="357.8" rx="1.95" ry="1.95"/>
<ellipse cx="163.1" cy="365.7" rx="1.95" ry="1.95"/>
<ellipse cx="163.9" cy="374.3" rx="1.95" ry="1.95"/>
<ellipse cx="165.0" cy="380.6" rx="1.95" ry="1.95"/>
<ellipse cx="168.1" cy="380.6" rx="1.95" ry="1.95"/>
<ellipse cx="167.8" cy="357.8" rx="1.95" ry="1.95"/>
<ellipse cx="170.9" cy="353.1" rx="1.95" ry="1.95"/>
<ellipse cx="171.7" cy="359.4" rx="1.95" ry="1.95"/>
<ellipse cx="171.7" cy="371.2" rx="1.95" ry="1.95"/>
<ellipse cx="175.7" cy="379.5" rx="1.95" ry="1.95"/>
<ellipse cx="177.2" cy="356.2" rx="1.95" ry="1.95"/>
<ellipse cx="177.2" cy="367.2" rx="1.95" ry="1.95"/>
<ellipse cx="180.4" cy="372.0" rx="1.95" ry="1.95"/>
<ellipse cx="180.4" cy="375.9" rx="1.95" ry="1.95"/>
<ellipse cx="182.8" cy="350.7" rx="1.95" ry="1.95"/>
<ellipse cx="182.8" cy="360.2" rx="1.95" ry="1.95"/>
<ellipse cx="185.9" cy="364.1" rx="1.95" ry="1.95"/>
<ellipse cx="187.5" cy="353.1" rx="1.95" ry="1.95"/>
<ellipse cx="189.1" cy="370.4" rx="1.95" ry="1.95"/>
<ellipse cx="190.6" cy="375.9" rx="1.95" ry="1.95"/>
<ellipse cx="193.0" cy="361.7" rx="1.95" ry="1.95"/>
<ellipse cx="194.6" cy="354.6" rx="1.95" ry="1.95"/>
<ellipse cx="196.1" cy="367.2" rx="1.95" ry="1.95"/>
<ellipse cx="199.3" cy="357.8" rx="1.95" ry="1.95"/>
<ellipse cx="204.6" cy="295.1" rx="1.95" ry="1.95"/>
<ellipse cx="196.6" cy="313.3" rx="1.95" ry="1.95"/>
<ellipse cx="223.5" cy="333.6" rx="1.95" ry="1.95"/>
<ellipse cx="234.2" cy="340.4" rx="1.95" ry="1.95"/>
<ellipse cx="240.8" cy="342.3" rx="1.95" ry="1.95"/>
<ellipse cx="233.7" cy="345.4" rx="1.95" ry="1.95"/>
<ellipse cx="204.2" cy="344.7" rx="1.95" ry="1.95"/>
<ellipse cx="207.7" cy="345.9" rx="1.95" ry="1.95"/>
<ellipse cx="204.2" cy="348.2" rx="1.95" ry="1.95"/>
<ellipse cx="207.7" cy="348.6" rx="1.95" ry="1.95"/>
<ellipse cx="214.8" cy="349.2" rx="1.95" ry="1.95"/>
<ellipse cx="237.2" cy="350.6" rx="1.95" ry="1.95"/>
<ellipse cx="250.2" cy="362.4" rx="1.95" ry="1.95"/>
<ellipse cx="250.2" cy="366.6" rx="1.95" ry="1.95"/>
<ellipse cx="250.2" cy="374.0" rx="1.95" ry="1.95"/>
<ellipse cx="250.2" cy="375.4" rx="1.95" ry="1.95"/>
<ellipse cx="262.0" cy="359.5" rx="1.95" ry="1.95"/>
<ellipse cx="267.4" cy="361.5" rx="1.95" ry="1.95"/>
<ellipse cx="268.2" cy="362.3" rx="1.95" ry="1.95"/>
<ellipse cx="272.6" cy="375.8" rx="1.95" ry="1.95"/>
<ellipse cx="299.1" cy="374.3" rx="1.95" ry="1.95"/>
<ellipse cx="299.1" cy="375.6" rx="1.95" ry="1.95"/>
<ellipse cx="225.9" cy="381.7" rx="1.95" ry="1.95"/>
<ellipse cx="240.8" cy="358.8" rx="1.95" ry="1.95"/>
<ellipse cx="240.8" cy="364.7" rx="1.95" ry="1.95"/>
<ellipse cx="240.8" cy="369.5" rx="1.95" ry="1.95"/>
<ellipse cx="227.6" cy="377.0" rx="1.95" ry="1.95"/>
<ellipse cx="202.1" cy="377.0" rx="1.95" ry="1.95"/>
<ellipse cx="191.4" cy="377.0" rx="1.95" ry="1.95"/>
<ellipse cx="206.1" cy="373.0" rx="1.95" ry="1.95"/>
<ellipse cx="212.8" cy="372.3" rx="1.95" ry="1.95"/>
<ellipse cx="214.9" cy="373.0" rx="1.95" ry="1.95"/>
<ellipse cx="226.3" cy="370.3" rx="1.95" ry="1.95"/>
<ellipse cx="230.3" cy="373.0" rx="1.95" ry="1.95"/>
<ellipse cx="242.4" cy="368.3" rx="1.95" ry="1.95"/>
<ellipse cx="236.3" cy="346.1" rx="1.95" ry="1.95"/>
<ellipse cx="138.4" cy="357.0" rx="1.95" ry="1.95"/>
<ellipse cx="139.5" cy="360.1" rx="1.95" ry="1.95"/>
<ellipse cx="138.8" cy="367.7" rx="1.95" ry="1.95"/>
<ellipse cx="139.9" cy="369.1" rx="1.95" ry="1.95"/>
<ellipse cx="143.1" cy="356.9" rx="1.95" ry="1.95"/>
<ellipse cx="142.4" cy="363.3" rx="1.95" ry="1.95"/>
<ellipse cx="142.5" cy="365.6" rx="1.95" ry="1.95"/>
<ellipse cx="144.3" cy="371.3" rx="1.95" ry="1.95"/>
<ellipse cx="145.9" cy="355.5" rx="1.95" ry="1.95"/>
<ellipse cx="146.7" cy="359.0" rx="1.95" ry="1.95"/>
<ellipse cx="147.2" cy="367.0" rx="1.95" ry="1.95"/>
<ellipse cx="146.4" cy="372.3" rx="1.95" ry="1.95"/>
<ellipse cx="152.8" cy="356.6" rx="1.95" ry="1.95"/>
<ellipse cx="151.8" cy="359.3" rx="1.95" ry="1.95"/>
<ellipse cx="149.1" cy="368.2" rx="1.95" ry="1.95"/>
<ellipse cx="150.1" cy="369.3" rx="1.95" ry="1.95"/>
<ellipse cx="157.0" cy="357.6" rx="1.95" ry="1.95"/>
<ellipse cx="153.7" cy="360.3" rx="1.95" ry="1.95"/>
<ellipse cx="154.2" cy="364.8" rx="1.95" ry="1.95"/>
<ellipse cx="153.2" cy="370.7" rx="1.95" ry="1.95"/>
<ellipse cx="158.7" cy="355.9" rx="1.95" ry="1.95"/>
<ellipse cx="158.2" cy="359.3" rx="1.95" ry="1.95"/>
<ellipse cx="157.6" cy="367.6" rx="1.95" ry="1.95"/>
<ellipse cx="160.6" cy="370.9" rx="1.95" ry="1.95"/>
<ellipse cx="162.2" cy="354.7" rx="1.95" ry="1.95"/>
<ellipse cx="162.2" cy="360.3" rx="1.95" ry="1.95"/>
<ellipse cx="162.0" cy="364.8" rx="1.95" ry="1.95"/>
<ellipse cx="162.6" cy="369.2" rx="1.95" ry="1.95"/>
<ellipse cx="179.8" cy="353.0" rx="1.95" ry="1.95"/>
<ellipse cx="179.1" cy="357.0" rx="1.95" ry="1.95"/>
<ellipse cx="179.3" cy="363.3" rx="1.95" ry="1.95"/>
<ellipse cx="178.3" cy="364.5" rx="1.95" ry="1.95"/>
<ellipse cx="179.1" cy="370.3" rx="1.95" ry="1.95"/>
<ellipse cx="184.7" cy="351.5" rx="1.95" ry="1.95"/>
<ellipse cx="185.1" cy="355.5" rx="1.95" ry="1.95"/>
<ellipse cx="183.7" cy="361.8" rx="1.95" ry="1.95"/>
<ellipse cx="182.7" cy="368.1" rx="1.95" ry="1.95"/>
<ellipse cx="184.4" cy="369.3" rx="1.95" ry="1.95"/>
<ellipse cx="187.8" cy="353.7" rx="1.95" ry="1.95"/>
<ellipse cx="185.8" cy="355.8" rx="1.95" ry="1.95"/>
<ellipse cx="188.3" cy="363.0" rx="1.95" ry="1.95"/>
<ellipse cx="187.7" cy="366.1" rx="1.95" ry="1.95"/>
<ellipse cx="187.9" cy="369.7" rx="1.95" ry="1.95"/>
<ellipse cx="189.0" cy="354.6" rx="1.95" ry="1.95"/>
<ellipse cx="187.6" cy="354.8" rx="1.95" ry="1.95"/>
<ellipse cx="187.4" cy="361.5" rx="1.95" ry="1.95"/>
<ellipse cx="187.1" cy="362.6" rx="1.95" ry="1.95"/>
<ellipse cx="190.0" cy="353.7" rx="1.95" ry="1.95"/>
<ellipse cx="191.5" cy="355.8" rx="1.95" ry="1.95"/>
<ellipse cx="191.5" cy="361.4" rx="1.95" ry="1.95"/>
<ellipse cx="192.7" cy="365.4" rx="1.95" ry="1.95"/>
<ellipse cx="194.3" cy="354.0" rx="1.95" ry="1.95"/>
<ellipse cx="195.9" cy="358.0" rx="1.95" ry="1.95"/>
<ellipse cx="195.4" cy="360.7" rx="1.95" ry="1.95"/>
<ellipse cx="194.5" cy="365.4" rx="1.95" ry="1.95"/>
<ellipse cx="198.3" cy="353.7" rx="1.95" ry="1.95"/>
<ellipse cx="197.0" cy="355.1" rx="1.95" ry="1.95"/>
<ellipse cx="197.1" cy="360.7" rx="1.95" ry="1.95"/>
<ellipse cx="198.1" cy="363.0" rx="1.95" ry="1.95"/>
<ellipse cx="200.2" cy="354.6" rx="1.95" ry="1.95"/>
<ellipse cx="199.8" cy="358.2" rx="1.95" ry="1.95"/>
<ellipse cx="202.2" cy="360.7" rx="1.95" ry="1.95"/>
<ellipse cx="203.0" cy="364.8" rx="1.95" ry="1.95"/>
<ellipse cx="218.0" cy="352.3" rx="1.95" ry="1.95"/>
<ellipse cx="219.0" cy="354.6" rx="1.95" ry="1.95"/>
<ellipse cx="220.0" cy="355.1" rx="1.95" ry="1.95"/>
<ellipse cx="218.1" cy="357.2" rx="1.95" ry="1.95"/>
<ellipse cx="219.9" cy="361.5" rx="1.95" ry="1.95"/>
<ellipse cx="220.9" cy="350.3" rx="1.95" ry="1.95"/>
<ellipse cx="221.3" cy="354.3" rx="1.95" ry="1.95"/>
<ellipse cx="222.2" cy="356.9" rx="1.95" ry="1.95"/>
<ellipse cx="222.7" cy="359.0" rx="1.95" ry="1.95"/>
<ellipse cx="222.4" cy="359.6" rx="1.95" ry="1.95"/>
<ellipse cx="222.8" cy="352.1" rx="1.95" ry="1.95"/>
<ellipse cx="224.3" cy="353.2" rx="1.95" ry="1.95"/>
<ellipse cx="223.1" cy="355.6" rx="1.95" ry="1.95"/>
<ellipse cx="223.6" cy="358.4" rx="1.95" ry="1.95"/>
<ellipse cx="223.9" cy="360.1" rx="1.95" ry="1.95"/>
<ellipse cx="225.4" cy="350.5" rx="1.95" ry="1.95"/>
<ellipse cx="225.5" cy="352.6" rx="1.95" ry="1.95"/>
<ellipse cx="226.2" cy="355.1" rx="1.95" ry="1.95"/>
<ellipse cx="227.1" cy="358.5" rx="1.95" ry="1.95"/>
<ellipse cx="226.3" cy="361.1" rx="1.95" ry="1.95"/>
<ellipse cx="228.2" cy="350.1" rx="1.95" ry="1.95"/>
<ellipse cx="227.8" cy="353.2" rx="1.95" ry="1.95"/>
<ellipse cx="228.5" cy="355.4" rx="1.95" ry="1.95"/>
<ellipse cx="228.3" cy="359.2" rx="1.95" ry="1.95"/>
<ellipse cx="227.6" cy="360.7" rx="1.95" ry="1.95"/>
<ellipse cx="208.4" cy="356.0" rx="1.95" ry="1.95"/>
<ellipse cx="209.7" cy="359.2" rx="1.95" ry="1.95"/>
<ellipse cx="207.2" cy="362.3" rx="1.95" ry="1.95"/>
<ellipse cx="210.6" cy="366.4" rx="1.95" ry="1.95"/>
<ellipse cx="207.4" cy="371.9" rx="1.95" ry="1.95"/>
<ellipse cx="213.0" cy="358.3" rx="1.95" ry="1.95"/>
<ellipse cx="211.9" cy="361.2" rx="1.95" ry="1.95"/>
<ellipse cx="210.8" cy="362.6" rx="1.95" ry="1.95"/>
<ellipse cx="213.6" cy="367.0" rx="1.95" ry="1.95"/>
<ellipse cx="213.6" cy="369.9" rx="1.95" ry="1.95"/>
<ellipse cx="217.5" cy="355.3" rx="1.95" ry="1.95"/>
<ellipse cx="216.6" cy="359.0" rx="1.95" ry="1.95"/>
<ellipse cx="215.1" cy="364.8" rx="1.95" ry="1.95"/>
<ellipse cx="215.9" cy="368.0" rx="1.95" ry="1.95"/>
<ellipse cx="215.4" cy="371.1" rx="1.95" ry="1.95"/>
<ellipse cx="203.5" cy="355.0" rx="1.95" ry="1.95"/>
<ellipse cx="200.2" cy="358.2" rx="1.95" ry="1.95"/>
<ellipse cx="203.8" cy="361.8" rx="1.95" ry="1.95"/>
<ellipse cx="201.2" cy="363.6" rx="1.95" ry="1.95"/>
<ellipse cx="199.5" cy="367.9" rx="1.95" ry="1.95"/>
<ellipse cx="199.8" cy="369.3" rx="1.95" ry="1.95"/>
<ellipse cx="199.2" cy="372.3" rx="1.95" ry="1.95"/>
<ellipse cx="200.9" cy="376.4" rx="1.95" ry="1.95"/>
<ellipse cx="233.6" cy="356.3" rx="1.95" ry="1.95"/>
<ellipse cx="235.8" cy="359.9" rx="1.95" ry="1.95"/>
<ellipse cx="233.5" cy="367.5" rx="1.95" ry="1.95"/>
<ellipse cx="240.0" cy="358.9" rx="1.95" ry="1.95"/>
<ellipse cx="238.8" cy="359.8" rx="1.95" ry="1.95"/>
<ellipse cx="239.9" cy="370.0" rx="1.95" ry="1.95"/>
<ellipse cx="243.6" cy="356.8" rx="1.95" ry="1.95"/>
<ellipse cx="241.7" cy="362.5" rx="1.95" ry="1.95"/>
<ellipse cx="243.2" cy="370.0" rx="1.95" ry="1.95"/>
</g>
<line x1="44.6" y1="357.2" x2="331.8" y2="378.6" stroke="#d6a844" stroke-width="1.2" stroke-dasharray="4.8 1.5" clip-path="url(#cle)"/>
<rect x="44.6" y="294.4" width="287.2" height="91.2" fill="none" stroke="#4a4a4a" stroke-width="1.1"/>
<path d="M44.60 385.6v-2.6M44.60 294.4v2.6M116.40 385.6v-2.6M116.40 294.4v2.6M188.20 385.6v-2.6M188.20 294.4v2.6M260.00 385.6v-2.6M260.00 294.4v2.6M331.80 385.6v-2.6M331.80 294.4v2.6M44.6 385.60h2.6M331.8 385.60h-2.6M44.6 355.20h2.6M331.8 355.20h-2.6M44.6 324.80h2.6M331.8 324.80h-2.6M44.6 294.40h2.6M331.8 294.40h-2.6" stroke="#4a4a4a" stroke-width="1" fill="none"/>
<text transform="translate(40.40 390.10) scale(1 1.08)" font-size="11.3" text-anchor="end">0.5</text>
<text transform="translate(40.40 359.70) scale(1 1.08)" font-size="11.3" text-anchor="end">1</text>
<text transform="translate(40.40 329.30) scale(1 1.08)" font-size="11.3" text-anchor="end">1.5</text>
<text transform="translate(40.40 298.90) scale(1 1.08)" font-size="11.3" text-anchor="end">2</text>
<text transform="translate(44.70 289.10) scale(1 1.08)" font-size="12.2">x 10</text>
<text transform="translate(66.20 282.50) scale(1 1.08)" font-size="8">-3</text>
<text transform="translate(40.90 404.80) scale(1 1.08)" font-size="11.3" text-anchor="middle">10</text>
<text transform="translate(47.40 397.90) scale(1 1.08)" font-size="8">-2</text>
<text transform="translate(112.70 404.80) scale(1 1.08)" font-size="11.3" text-anchor="middle">10</text>
<text transform="translate(119.20 397.90) scale(1 1.08)" font-size="8">0</text>
<text transform="translate(184.50 404.80) scale(1 1.08)" font-size="11.3" text-anchor="middle">10</text>
<text transform="translate(191.00 397.90) scale(1 1.08)" font-size="8">2</text>
<text transform="translate(256.30 404.80) scale(1 1.08)" font-size="11.3" text-anchor="middle">10</text>
<text transform="translate(262.80 397.90) scale(1 1.08)" font-size="8">4</text>
<text transform="translate(328.10 404.80) scale(1 1.08)" font-size="11.3" text-anchor="middle">10</text>
<text transform="translate(334.60 397.90) scale(1 1.08)" font-size="8">6</text>
<text transform="translate(314.60 311.40) scale(1 1.08)" font-size="14.5">e</text>
<g fill="none" stroke="#d98c2c" stroke-width="0.95" clip-path="url(#cpf)">
<ellipse cx="430.1" cy="347.7" rx="2.1" ry="2.0"/>
<ellipse cx="430.1" cy="350.6" rx="2.1" ry="2.0"/>
<ellipse cx="430.1" cy="355.3" rx="2.1" ry="2.0"/>
<ellipse cx="430.1" cy="356.3" rx="2.1" ry="2.0"/>
<ellipse cx="430.1" cy="366.4" rx="2.1" ry="2.0"/>
<ellipse cx="430.1" cy="374.9" rx="2.1" ry="2.0"/>
<ellipse cx="454.4" cy="326.5" rx="2.1" ry="2.0"/>
<ellipse cx="454.4" cy="345.4" rx="2.1" ry="2.0"/>
<ellipse cx="457.9" cy="354.1" rx="2.1" ry="2.0"/>
<ellipse cx="454.4" cy="357.7" rx="2.1" ry="2.0"/>
<ellipse cx="454.4" cy="360.0" rx="2.1" ry="2.0"/>
<ellipse cx="454.4" cy="363.6" rx="2.1" ry="2.0"/>
<ellipse cx="454.4" cy="369.5" rx="2.1" ry="2.0"/>
<ellipse cx="454.4" cy="373.5" rx="2.1" ry="2.0"/>
<ellipse cx="454.4" cy="375.5" rx="2.1" ry="2.0"/>
<ellipse cx="469.3" cy="343.0" rx="2.1" ry="2.0"/>
<ellipse cx="474.0" cy="348.9" rx="2.1" ry="2.0"/>
<ellipse cx="469.3" cy="355.3" rx="2.1" ry="2.0"/>
<ellipse cx="469.3" cy="361.2" rx="2.1" ry="2.0"/>
<ellipse cx="469.3" cy="364.0" rx="2.1" ry="2.0"/>
<ellipse cx="469.3" cy="367.0" rx="2.1" ry="2.0"/>
<ellipse cx="469.3" cy="370.6" rx="2.1" ry="2.0"/>
<ellipse cx="473.3" cy="361.2" rx="2.1" ry="2.0"/>
<ellipse cx="475.6" cy="363.1" rx="2.1" ry="2.0"/>
<ellipse cx="474.5" cy="370.2" rx="2.1" ry="2.0"/>
<ellipse cx="472.6" cy="375.8" rx="2.1" ry="2.0"/>
<ellipse cx="480.4" cy="351.3" rx="2.1" ry="2.0"/>
<ellipse cx="480.4" cy="355.0" rx="2.1" ry="2.0"/>
<ellipse cx="480.4" cy="358.8" rx="2.1" ry="2.0"/>
<ellipse cx="481.5" cy="370.6" rx="2.1" ry="2.0"/>
<ellipse cx="480.4" cy="380.6" rx="2.1" ry="2.0"/>
<ellipse cx="485.1" cy="380.6" rx="2.1" ry="2.0"/>
<ellipse cx="486.7" cy="352.2" rx="2.1" ry="2.0"/>
<ellipse cx="494.5" cy="355.3" rx="2.1" ry="2.0"/>
<ellipse cx="495.7" cy="360.0" rx="2.1" ry="2.0"/>
<ellipse cx="495.7" cy="369.5" rx="2.1" ry="2.0"/>
<ellipse cx="498.0" cy="373.0" rx="2.1" ry="2.0"/>
<ellipse cx="498.0" cy="377.7" rx="2.1" ry="2.0"/>
<ellipse cx="500.4" cy="352.2" rx="2.1" ry="2.0"/>
<ellipse cx="502.8" cy="348.2" rx="2.1" ry="2.0"/>
<ellipse cx="507.5" cy="331.2" rx="2.1" ry="2.0"/>
<ellipse cx="508.7" cy="336.4" rx="2.1" ry="2.0"/>
<ellipse cx="507.5" cy="349.9" rx="2.1" ry="2.0"/>
<ellipse cx="515.8" cy="351.8" rx="2.1" ry="2.0"/>
<ellipse cx="515.8" cy="369.5" rx="2.1" ry="2.0"/>
<ellipse cx="521.7" cy="355.3" rx="2.1" ry="2.0"/>
<ellipse cx="521.7" cy="369.5" rx="2.1" ry="2.0"/>
<ellipse cx="520.5" cy="376.5" rx="2.1" ry="2.0"/>
<ellipse cx="524.5" cy="312.3" rx="2.1" ry="2.0"/>
<ellipse cx="524.5" cy="323.9" rx="2.1" ry="2.0"/>
<ellipse cx="524.5" cy="341.8" rx="2.1" ry="2.0"/>
<ellipse cx="528.8" cy="294.2" rx="2.1" ry="2.0"/>
<ellipse cx="526.4" cy="354.1" rx="2.1" ry="2.0"/>
<ellipse cx="528.8" cy="365.9" rx="2.1" ry="2.0"/>
<ellipse cx="547.6" cy="333.3" rx="2.1" ry="2.0"/>
<ellipse cx="559.7" cy="340.0" rx="2.1" ry="2.0"/>
<ellipse cx="564.9" cy="341.8" rx="2.1" ry="2.0"/>
<ellipse cx="545.5" cy="345.4" rx="2.1" ry="2.0"/>
<ellipse cx="550.2" cy="345.4" rx="2.1" ry="2.0"/>
<ellipse cx="529.4" cy="344.7" rx="2.1" ry="2.0"/>
<ellipse cx="530.6" cy="350.6" rx="2.1" ry="2.0"/>
<ellipse cx="536.5" cy="349.4" rx="2.1" ry="2.0"/>
<ellipse cx="541.3" cy="351.8" rx="2.1" ry="2.0"/>
<ellipse cx="555.0" cy="351.3" rx="2.1" ry="2.0"/>
<ellipse cx="559.0" cy="354.1" rx="2.1" ry="2.0"/>
<ellipse cx="576.7" cy="363.1" rx="2.1" ry="2.0"/>
<ellipse cx="566.8" cy="365.9" rx="2.1" ry="2.0"/>
<ellipse cx="563.7" cy="368.3" rx="2.1" ry="2.0"/>
<ellipse cx="567.2" cy="374.2" rx="2.1" ry="2.0"/>
<ellipse cx="567.2" cy="375.8" rx="2.1" ry="2.0"/>
<ellipse cx="577.4" cy="372.5" rx="2.1" ry="2.0"/>
<ellipse cx="584.2" cy="360.7" rx="2.1" ry="2.0"/>
<ellipse cx="584.2" cy="362.7" rx="2.1" ry="2.0"/>
<ellipse cx="589.0" cy="359.3" rx="2.1" ry="2.0"/>
<ellipse cx="594.4" cy="362.4" rx="2.1" ry="2.0"/>
<ellipse cx="590.4" cy="375.4" rx="2.1" ry="2.0"/>
<ellipse cx="621.1" cy="374.5" rx="2.1" ry="2.0"/>
<ellipse cx="621.1" cy="376.3" rx="2.1" ry="2.0"/>
<ellipse cx="546.0" cy="382.0" rx="2.1" ry="2.0"/>
<ellipse cx="547.2" cy="377.3" rx="2.1" ry="2.0"/>
<ellipse cx="531.8" cy="377.3" rx="2.1" ry="2.0"/>
<ellipse cx="485.4" cy="380.7" rx="2.1" ry="2.0"/>
<ellipse cx="481.3" cy="380.7" rx="2.1" ry="2.0"/>
<ellipse cx="498.0" cy="379.4" rx="2.1" ry="2.0"/>
<ellipse cx="506.2" cy="375.6" rx="2.1" ry="2.0"/>
<ellipse cx="520.3" cy="376.3" rx="2.1" ry="2.0"/>
<ellipse cx="531.7" cy="377.0" rx="2.1" ry="2.0"/>
<ellipse cx="546.4" cy="377.0" rx="2.1" ry="2.0"/>
<ellipse cx="503.5" cy="348.1" rx="2.1" ry="2.0"/>
<ellipse cx="494.8" cy="354.8" rx="2.1" ry="2.0"/>
<ellipse cx="509.5" cy="336.0" rx="2.1" ry="2.0"/>
<ellipse cx="528.3" cy="347.4" rx="2.1" ry="2.0"/>
<ellipse cx="530.3" cy="350.1" rx="2.1" ry="2.0"/>
<ellipse cx="549.8" cy="345.4" rx="2.1" ry="2.0"/>
<ellipse cx="547.8" cy="333.4" rx="2.1" ry="2.0"/>
<ellipse cx="516.2" cy="350.8" rx="2.1" ry="2.0"/>
<ellipse cx="520.3" cy="353.5" rx="2.1" ry="2.0"/>
<ellipse cx="525.0" cy="354.8" rx="2.1" ry="2.0"/>
<ellipse cx="484.8" cy="357.1" rx="2.1" ry="2.0"/>
<ellipse cx="485.7" cy="358.4" rx="2.1" ry="2.0"/>
<ellipse cx="484.5" cy="360.1" rx="2.1" ry="2.0"/>
<ellipse cx="484.2" cy="362.0" rx="2.1" ry="2.0"/>
<ellipse cx="484.3" cy="365.0" rx="2.1" ry="2.0"/>
<ellipse cx="486.0" cy="367.4" rx="2.1" ry="2.0"/>
<ellipse cx="484.8" cy="368.8" rx="2.1" ry="2.0"/>
<ellipse cx="485.4" cy="370.7" rx="2.1" ry="2.0"/>
<ellipse cx="486.1" cy="357.7" rx="2.1" ry="2.0"/>
<ellipse cx="487.2" cy="358.2" rx="2.1" ry="2.0"/>
<ellipse cx="486.1" cy="360.2" rx="2.1" ry="2.0"/>
<ellipse cx="487.9" cy="362.2" rx="2.1" ry="2.0"/>
<ellipse cx="487.3" cy="365.9" rx="2.1" ry="2.0"/>
<ellipse cx="486.1" cy="366.8" rx="2.1" ry="2.0"/>
<ellipse cx="487.0" cy="369.8" rx="2.1" ry="2.0"/>
<ellipse cx="486.4" cy="370.5" rx="2.1" ry="2.0"/>
<ellipse cx="488.5" cy="356.1" rx="2.1" ry="2.0"/>
<ellipse cx="489.3" cy="359.6" rx="2.1" ry="2.0"/>
<ellipse cx="488.9" cy="360.1" rx="2.1" ry="2.0"/>
<ellipse cx="489.4" cy="363.5" rx="2.1" ry="2.0"/>
<ellipse cx="489.3" cy="364.7" rx="2.1" ry="2.0"/>
<ellipse cx="489.7" cy="367.3" rx="2.1" ry="2.0"/>
<ellipse cx="489.2" cy="369.1" rx="2.1" ry="2.0"/>
<ellipse cx="488.5" cy="370.9" rx="2.1" ry="2.0"/>
<ellipse cx="491.6" cy="357.4" rx="2.1" ry="2.0"/>
<ellipse cx="490.7" cy="359.6" rx="2.1" ry="2.0"/>
<ellipse cx="491.7" cy="360.1" rx="2.1" ry="2.0"/>
<ellipse cx="490.3" cy="362.4" rx="2.1" ry="2.0"/>
<ellipse cx="490.0" cy="365.5" rx="2.1" ry="2.0"/>
<ellipse cx="491.3" cy="367.1" rx="2.1" ry="2.0"/>
<ellipse cx="492.0" cy="368.7" rx="2.1" ry="2.0"/>
<ellipse cx="490.4" cy="370.2" rx="2.1" ry="2.0"/>
<ellipse cx="502.0" cy="357.0" rx="2.1" ry="2.0"/>
<ellipse cx="502.8" cy="357.6" rx="2.1" ry="2.0"/>
<ellipse cx="502.3" cy="360.0" rx="2.1" ry="2.0"/>
<ellipse cx="502.9" cy="362.6" rx="2.1" ry="2.0"/>
<ellipse cx="501.5" cy="366.3" rx="2.1" ry="2.0"/>
<ellipse cx="503.5" cy="368.6" rx="2.1" ry="2.0"/>
<ellipse cx="501.9" cy="371.1" rx="2.1" ry="2.0"/>
<ellipse cx="504.8" cy="355.0" rx="2.1" ry="2.0"/>
<ellipse cx="504.8" cy="359.1" rx="2.1" ry="2.0"/>
<ellipse cx="505.9" cy="360.3" rx="2.1" ry="2.0"/>
<ellipse cx="506.5" cy="364.3" rx="2.1" ry="2.0"/>
<ellipse cx="504.8" cy="367.0" rx="2.1" ry="2.0"/>
<ellipse cx="504.8" cy="367.3" rx="2.1" ry="2.0"/>
<ellipse cx="505.5" cy="371.7" rx="2.1" ry="2.0"/>
<ellipse cx="508.8" cy="356.3" rx="2.1" ry="2.0"/>
<ellipse cx="508.5" cy="358.1" rx="2.1" ry="2.0"/>
<ellipse cx="507.9" cy="360.8" rx="2.1" ry="2.0"/>
<ellipse cx="508.6" cy="364.6" rx="2.1" ry="2.0"/>
<ellipse cx="507.2" cy="365.3" rx="2.1" ry="2.0"/>
<ellipse cx="509.8" cy="368.7" rx="2.1" ry="2.0"/>
<ellipse cx="507.2" cy="370.6" rx="2.1" ry="2.0"/>
<ellipse cx="512.0" cy="357.2" rx="2.1" ry="2.0"/>
<ellipse cx="510.3" cy="359.6" rx="2.1" ry="2.0"/>
<ellipse cx="512.3" cy="360.5" rx="2.1" ry="2.0"/>
<ellipse cx="511.6" cy="364.3" rx="2.1" ry="2.0"/>
<ellipse cx="510.7" cy="366.4" rx="2.1" ry="2.0"/>
<ellipse cx="511.7" cy="367.3" rx="2.1" ry="2.0"/>
<ellipse cx="510.8" cy="370.6" rx="2.1" ry="2.0"/>
<ellipse cx="495.4" cy="370.8" rx="2.1" ry="2.0"/>
<ellipse cx="495.8" cy="371.9" rx="2.1" ry="2.0"/>
<ellipse cx="496.8" cy="377.1" rx="2.1" ry="2.0"/>
<ellipse cx="499.0" cy="368.3" rx="2.1" ry="2.0"/>
<ellipse cx="499.5" cy="374.6" rx="2.1" ry="2.0"/>
<ellipse cx="498.2" cy="378.6" rx="2.1" ry="2.0"/>
<ellipse cx="528.0" cy="353.6" rx="2.1" ry="2.0"/>
<ellipse cx="527.6" cy="356.3" rx="2.1" ry="2.0"/>
<ellipse cx="528.1" cy="361.5" rx="2.1" ry="2.0"/>
<ellipse cx="527.2" cy="364.2" rx="2.1" ry="2.0"/>
<ellipse cx="525.7" cy="369.0" rx="2.1" ry="2.0"/>
<ellipse cx="527.4" cy="370.2" rx="2.1" ry="2.0"/>
<ellipse cx="529.2" cy="353.1" rx="2.1" ry="2.0"/>
<ellipse cx="528.9" cy="355.3" rx="2.1" ry="2.0"/>
<ellipse cx="528.8" cy="358.7" rx="2.1" ry="2.0"/>
<ellipse cx="528.6" cy="364.0" rx="2.1" ry="2.0"/>
<ellipse cx="529.8" cy="368.8" rx="2.1" ry="2.0"/>
<ellipse cx="529.2" cy="370.7" rx="2.1" ry="2.0"/>
<ellipse cx="534.3" cy="353.4" rx="2.1" ry="2.0"/>
<ellipse cx="533.6" cy="357.5" rx="2.1" ry="2.0"/>
<ellipse cx="532.4" cy="360.9" rx="2.1" ry="2.0"/>
<ellipse cx="532.4" cy="365.0" rx="2.1" ry="2.0"/>
<ellipse cx="534.0" cy="366.4" rx="2.1" ry="2.0"/>
<ellipse cx="533.9" cy="370.6" rx="2.1" ry="2.0"/>
<ellipse cx="534.7" cy="351.3" rx="2.1" ry="2.0"/>
<ellipse cx="536.4" cy="358.1" rx="2.1" ry="2.0"/>
<ellipse cx="537.6" cy="359.3" rx="2.1" ry="2.0"/>
<ellipse cx="536.0" cy="366.1" rx="2.1" ry="2.0"/>
<ellipse cx="537.4" cy="369.5" rx="2.1" ry="2.0"/>
<ellipse cx="535.4" cy="371.2" rx="2.1" ry="2.0"/>
<ellipse cx="538.3" cy="352.0" rx="2.1" ry="2.0"/>
<ellipse cx="539.1" cy="357.9" rx="2.1" ry="2.0"/>
<ellipse cx="539.9" cy="359.3" rx="2.1" ry="2.0"/>
<ellipse cx="538.4" cy="364.2" rx="2.1" ry="2.0"/>
<ellipse cx="540.6" cy="368.1" rx="2.1" ry="2.0"/>
<ellipse cx="540.3" cy="372.8" rx="2.1" ry="2.0"/>
<ellipse cx="546.1" cy="352.0" rx="2.1" ry="2.0"/>
<ellipse cx="544.3" cy="355.8" rx="2.1" ry="2.0"/>
<ellipse cx="545.8" cy="359.1" rx="2.1" ry="2.0"/>
<ellipse cx="543.7" cy="365.3" rx="2.1" ry="2.0"/>
<ellipse cx="544.7" cy="368.6" rx="2.1" ry="2.0"/>
<ellipse cx="547.1" cy="350.2" rx="2.1" ry="2.0"/>
<ellipse cx="547.3" cy="355.7" rx="2.1" ry="2.0"/>
<ellipse cx="546.6" cy="359.1" rx="2.1" ry="2.0"/>
<ellipse cx="549.8" cy="363.7" rx="2.1" ry="2.0"/>
<ellipse cx="546.5" cy="369.2" rx="2.1" ry="2.0"/>
<ellipse cx="551.1" cy="350.7" rx="2.1" ry="2.0"/>
<ellipse cx="552.2" cy="356.7" rx="2.1" ry="2.0"/>
<ellipse cx="551.1" cy="360.8" rx="2.1" ry="2.0"/>
<ellipse cx="553.1" cy="363.4" rx="2.1" ry="2.0"/>
<ellipse cx="551.7" cy="366.0" rx="2.1" ry="2.0"/>
<ellipse cx="555.6" cy="351.2" rx="2.1" ry="2.0"/>
<ellipse cx="555.8" cy="357.0" rx="2.1" ry="2.0"/>
<ellipse cx="554.7" cy="360.7" rx="2.1" ry="2.0"/>
<ellipse cx="556.8" cy="362.7" rx="2.1" ry="2.0"/>
<ellipse cx="556.3" cy="367.9" rx="2.1" ry="2.0"/>
<ellipse cx="469.8" cy="358.3" rx="2.1" ry="2.0"/>
<ellipse cx="468.1" cy="363.0" rx="2.1" ry="2.0"/>
<ellipse cx="467.8" cy="370.5" rx="2.1" ry="2.0"/>
<ellipse cx="471.6" cy="359.6" rx="2.1" ry="2.0"/>
<ellipse cx="472.9" cy="362.6" rx="2.1" ry="2.0"/>
<ellipse cx="470.1" cy="370.0" rx="2.1" ry="2.0"/>
<ellipse cx="474.7" cy="361.6" rx="2.1" ry="2.0"/>
<ellipse cx="474.5" cy="366.4" rx="2.1" ry="2.0"/>
<ellipse cx="474.0" cy="367.7" rx="2.1" ry="2.0"/>
</g>
<line x1="383.6" y1="289.8" x2="672.2" y2="394.3" stroke="#5656e6" stroke-width="1.0" stroke-dasharray="4.8 1.5" clip-path="url(#clf)"/>
<rect x="383.6" y="293.3" width="288.6" height="92.3" fill="none" stroke="#4a4a4a" stroke-width="1.1"/>
<path d="M383.60 385.6v-2.6M383.60 293.3v2.6M455.75 385.6v-2.6M455.75 293.3v2.6M527.90 385.6v-2.6M527.90 293.3v2.6M600.05 385.6v-2.6M600.05 293.3v2.6M672.20 385.6v-2.6M672.20 293.3v2.6M383.6 385.60h2.6M672.2 385.60h-2.6M383.6 354.83h2.6M672.2 354.83h-2.6M383.6 324.07h2.6M672.2 324.07h-2.6M383.6 293.30h2.6M672.2 293.30h-2.6" stroke="#4a4a4a" stroke-width="1" fill="none"/>
<text transform="translate(379.40 390.10) scale(1 1.08)" font-size="11.3" text-anchor="end">0.5</text>
<text transform="translate(379.40 359.33) scale(1 1.08)" font-size="11.3" text-anchor="end">1</text>
<text transform="translate(379.40 328.57) scale(1 1.08)" font-size="11.3" text-anchor="end">1.5</text>
<text transform="translate(379.40 297.80) scale(1 1.08)" font-size="11.3" text-anchor="end">2</text>
<text transform="translate(383.70 288.00) scale(1 1.08)" font-size="12.2">x 10</text>
<text transform="translate(405.20 281.40) scale(1 1.08)" font-size="8">-3</text>
<text transform="translate(379.90 404.80) scale(1 1.08)" font-size="11.3" text-anchor="middle">10</text>
<text transform="translate(386.40 397.90) scale(1 1.08)" font-size="8">-2</text>
<text transform="translate(452.05 404.80) scale(1 1.08)" font-size="11.3" text-anchor="middle">10</text>
<text transform="translate(458.55 397.90) scale(1 1.08)" font-size="8">0</text>
<text transform="translate(524.20 404.80) scale(1 1.08)" font-size="11.3" text-anchor="middle">10</text>
<text transform="translate(530.70 397.90) scale(1 1.08)" font-size="8">2</text>
<text transform="translate(596.35 404.80) scale(1 1.08)" font-size="11.3" text-anchor="middle">10</text>
<text transform="translate(602.85 397.90) scale(1 1.08)" font-size="8">4</text>
<text transform="translate(668.50 404.80) scale(1 1.08)" font-size="11.3" text-anchor="middle">10</text>
<text transform="translate(675.00 397.90) scale(1 1.08)" font-size="8">6</text>
<text transform="translate(657.20 311.40) scale(1 1.08)" font-size="14.5">f</text>
<text transform="translate(161.60 140.90) scale(1 1.08)" font-size="12.3" font-style="italic">K</text><text transform="translate(170.10 146.90) scale(1 1.08)" font-size="9.1">p</text><text transform="translate(174.06 140.90) scale(1 1.08)" font-size="12.3">-initial</text>
<text transform="translate(501.20 140.60) scale(1 1.08)" font-size="12.3" font-style="italic">K</text><text transform="translate(509.70 146.60) scale(1 1.08)" font-size="9.1">p</text><text transform="translate(513.66 140.60) scale(1 1.08)" font-size="12.3">-during</text>
<text transform="translate(163.40 273.30) scale(1 1.08)" font-size="12.3" font-style="italic">a</text><text transform="translate(169.85 279.30) scale(1 1.08)" font-size="9.1">p</text><text transform="translate(173.80 273.30) scale(1 1.08)" font-size="12.3">-initial</text>
<text transform="translate(503.00 273.60) scale(1 1.08)" font-size="12.3" font-style="italic">a</text><text transform="translate(509.45 279.60) scale(1 1.08)" font-size="9.1">p</text><text transform="translate(513.40 273.60) scale(1 1.08)" font-size="12.3">-during</text>
<text transform="translate(146.00 423.60) scale(1 1.08)" font-size="12.3">SUM(</text><text transform="translate(176.76 423.60) scale(1 1.08)" font-size="12.3" font-style="italic">a</text><text transform="translate(183.21 418.50) scale(1 1.08)" font-size="9.3">2</text><text transform="translate(183.21 429.40) scale(1 1.08)" font-size="9.3">p</text><text transform="translate(188.08 423.60) scale(1 1.08)" font-size="12.3">)-during</text>
<text transform="translate(490.00 423.60) scale(1 1.08)" font-size="12.3">SD(</text><text transform="translate(509.82 423.60) scale(1 1.08)" font-size="12.3" font-style="italic">a</text><text transform="translate(516.27 418.50) scale(1 1.08)" font-size="9.3">2</text><text transform="translate(516.27 429.40) scale(1 1.08)" font-size="9.3">p</text><text transform="translate(521.14 423.60) scale(1 1.08)" font-size="12.3">)-during</text>
<text transform="translate(11.8 100.2) rotate(-90)" font-size="12.5">1/<tspan font-style="italic">v</tspan><tspan font-size="10" dy="6.6">20</tspan><tspan dy="-6.6"> (min/m)</tspan></text>
<text transform="translate(11.8 234.7) rotate(-90)" font-size="12.5">1/<tspan font-style="italic">v</tspan><tspan font-size="10" dy="6.6">20</tspan><tspan dy="-6.6"> (min/m)</tspan></text>
<text transform="translate(11.8 374.7) rotate(-90)" font-size="12.5">1/<tspan font-style="italic">v</tspan><tspan font-size="10" dy="6.6">20</tspan><tspan dy="-6.6"> (min/m)</tspan></text>
</svg>
</body></html>
